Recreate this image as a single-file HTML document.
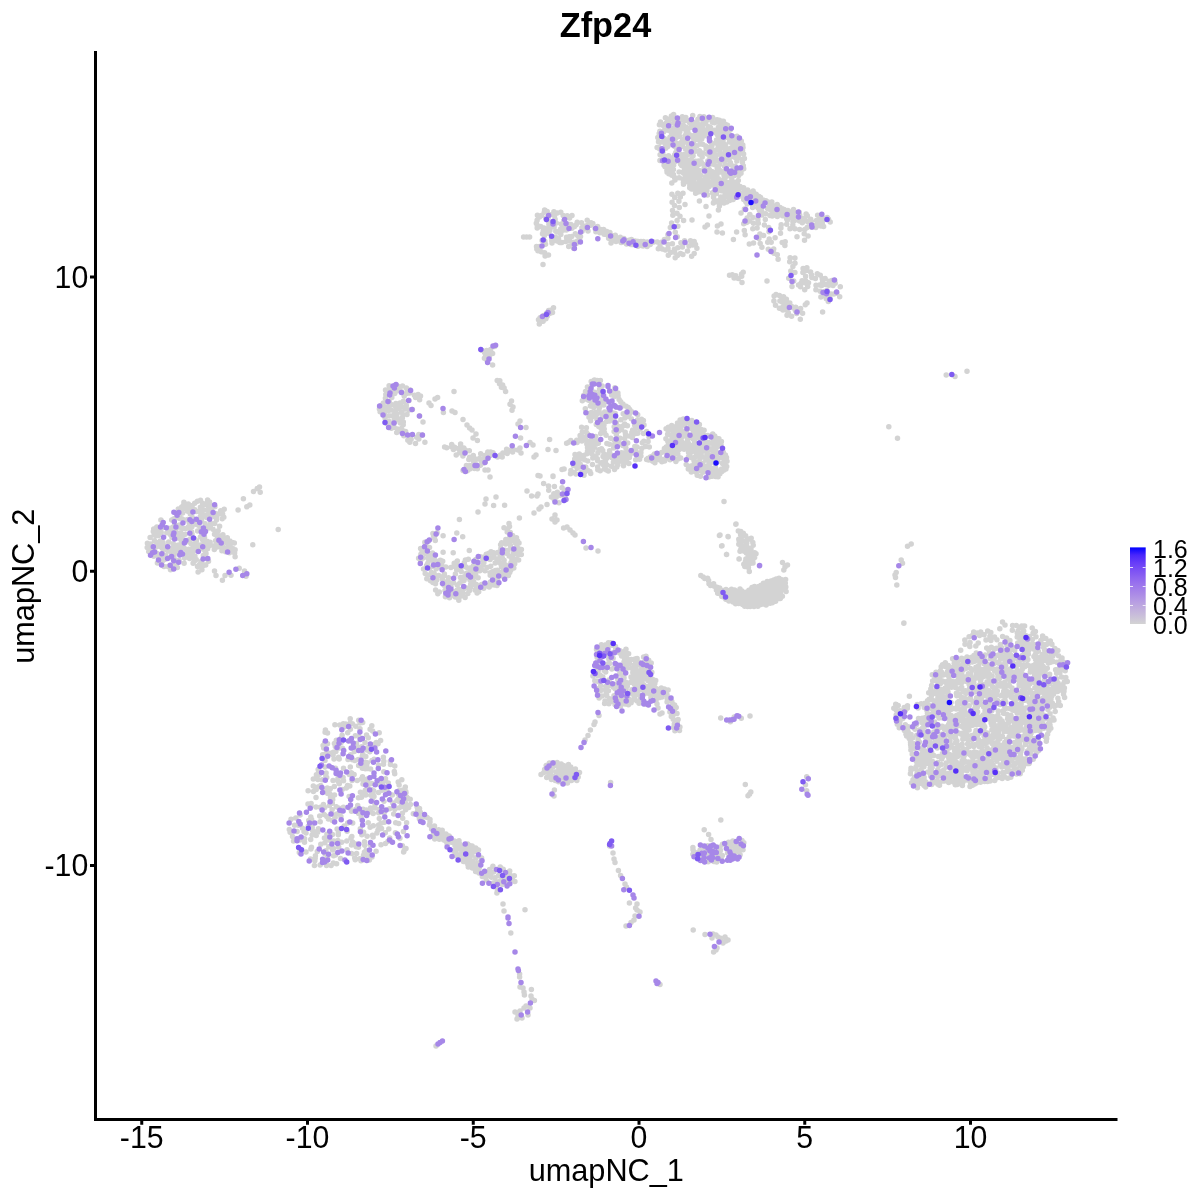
<!DOCTYPE html>
<html><head><meta charset="utf-8"><title>Zfp24</title>
<style>
html,body{margin:0;padding:0;background:#fff}
svg{display:block}
text{font-family:"Liberation Sans",sans-serif;fill:#000}
</style></head>
<body>
<svg width="1200" height="1200" viewBox="0 0 1200 1200">
<rect width="1200" height="1200" fill="#fff"/>
<g fill="none" stroke-width="5.5" stroke-linecap="round"><path d="M713.7 195.1h.01M727.5 134.0h.01M729.5 156.1h.01M684.3 138.9h.01M679.9 154.0h.01M702.7 163.9h.01M676.3 128.1h.01M712.6 117.6h.01M659.9 160.4h.01M714.1 160.3h.01M702.0 136.1h.01M719.9 131.8h.01M703.2 190.5h.01M715.1 181.0h.01M665.0 162.7h.01M703.0 192.7h.01M689.6 167.9h.01M686.1 127.2h.01M731.2 148.1h.01M711.9 171.5h.01M718.4 127.3h.01M696.8 135.4h.01M693.4 122.4h.01M718.0 140.9h.01M736.5 173.7h.01M708.7 126.8h.01M707.1 130.0h.01M737.4 171.9h.01M708.7 147.8h.01M694.2 135.3h.01M699.4 163.3h.01M686.0 181.8h.01M658.9 147.4h.01M659.4 124.8h.01M695.7 161.2h.01M736.4 144.9h.01M710.6 175.7h.01M689.1 160.7h.01M726.5 196.2h.01M694.9 187.6h.01M729.1 160.2h.01M722.9 134.2h.01M674.7 146.6h.01M743.3 165.7h.01M743.6 154.0h.01M724.5 166.3h.01M695.6 193.3h.01M662.9 152.6h.01M718.4 178.7h.01M714.1 201.8h.01M687.0 149.8h.01M675.1 118.2h.01M711.8 157.1h.01M711.0 173.5h.01M699.2 170.6h.01M714.7 130.3h.01M726.4 187.6h.01M723.3 123.9h.01M740.1 186.4h.01M736.8 161.1h.01M679.7 136.2h.01M673.7 165.1h.01M671.8 175.2h.01M658.5 141.8h.01M742.4 162.5h.01M712.4 131.0h.01M687.6 142.5h.01M666.9 170.5h.01M729.5 142.1h.01M735.5 186.0h.01M709.0 171.6h.01M712.3 122.3h.01M717.0 171.0h.01M731.9 186.6h.01M686.5 179.2h.01M671.4 116.0h.01M716.1 133.1h.01M691.3 136.6h.01M698.3 173.3h.01M665.8 148.2h.01M668.8 173.8h.01M690.6 162.6h.01M676.3 136.1h.01M686.7 155.1h.01M668.5 121.0h.01M690.9 178.1h.01M718.2 147.3h.01M725.8 130.9h.01M680.9 162.3h.01M725.0 195.0h.01M668.1 130.3h.01M727.6 149.5h.01M726.0 182.4h.01M722.5 154.0h.01M706.2 148.8h.01M706.7 179.1h.01M691.5 189.0h.01M721.7 188.5h.01M709.2 154.1h.01M699.9 116.6h.01M685.3 142.0h.01M735.2 157.6h.01M673.4 174.4h.01M682.5 160.5h.01M714.0 162.3h.01M692.8 185.4h.01M669.1 123.9h.01M675.6 159.6h.01M660.3 142.2h.01M711.4 119.6h.01M678.2 155.8h.01M737.1 182.7h.01M732.4 182.7h.01M721.3 190.8h.01M718.9 180.4h.01M684.2 128.8h.01M670.8 160.3h.01M709.2 186.6h.01M720.8 172.0h.01M694.5 176.4h.01M732.9 144.0h.01M717.8 132.6h.01M707.0 183.4h.01M699.4 150.7h.01M722.4 161.1h.01M723.4 121.3h.01M706.9 120.3h.01M674.7 154.8h.01M725.2 177.8h.01M707.2 186.9h.01M731.4 175.2h.01M715.3 150.5h.01M707.6 149.6h.01M724.6 148.1h.01M699.2 182.2h.01M702.6 144.3h.01M733.8 184.9h.01M697.5 178.3h.01M659.7 149.0h.01M735.2 166.2h.01M707.6 174.0h.01M718.5 166.6h.01M683.3 140.2h.01M688.8 154.2h.01M690.6 166.4h.01M737.4 158.4h.01M719.3 120.3h.01M735.8 142.0h.01M701.8 131.6h.01M732.2 156.6h.01M726.8 155.2h.01M675.0 142.3h.01M731.3 154.0h.01M679.1 172.0h.01M691.0 171.5h.01M680.2 156.9h.01M680.0 119.7h.01M695.3 183.7h.01M721.5 131.4h.01M669.1 142.8h.01M726.8 157.9h.01M741.0 173.2h.01M713.4 183.3h.01M725.2 144.8h.01M701.3 126.5h.01M696.9 171.7h.01M673.4 128.6h.01M698.5 128.4h.01M673.4 169.6h.01M693.7 151.5h.01M717.2 168.1h.01M667.1 142.2h.01M712.5 174.1h.01M743.7 168.8h.01M687.3 160.2h.01M720.0 151.8h.01M734.4 182.2h.01M687.4 120.6h.01M684.4 154.2h.01M738.7 175.4h.01M734.6 150.2h.01M679.0 126.5h.01M729.7 175.9h.01M676.0 137.9h.01M720.8 125.4h.01M703.8 116.8h.01M706.9 190.5h.01M664.3 138.5h.01M685.2 170.7h.01M698.2 191.9h.01M683.4 182.4h.01M720.4 148.8h.01M723.4 138.9h.01M697.6 139.8h.01M684.5 120.6h.01M672.4 119.3h.01M699.2 133.1h.01M724.1 197.4h.01M681.6 165.6h.01M702.9 120.4h.01M699.9 186.7h.01M735.7 192.3h.01M690.3 182.6h.01M685.8 117.4h.01M692.4 127.5h.01M664.1 165.2h.01M715.7 143.0h.01M708.8 181.9h.01M706.9 131.6h.01M709.9 158.2h.01M671.8 169.8h.01M693.4 138.1h.01M719.4 164.4h.01M679.4 129.4h.01M672.3 157.8h.01M704.5 181.3h.01M696.6 126.4h.01M725.2 124.2h.01M703.0 128.6h.01M669.3 139.4h.01M668.5 155.8h.01M682.3 116.7h.01M725.6 150.5h.01M685.0 180.4h.01M696.6 168.3h.01M721.7 156.8h.01M665.1 143.7h.01M698.5 164.8h.01M724.0 175.2h.01M730.9 150.9h.01M728.2 194.6h.01M743.0 147.5h.01M742.5 150.5h.01M699.7 154.3h.01M669.4 119.1h.01M725.5 164.9h.01M718.0 186.5h.01M677.6 134.8h.01M682.0 141.2h.01M726.1 147.6h.01M673.7 123.3h.01M683.7 171.4h.01M709.4 136.6h.01M710.5 127.6h.01M721.2 120.9h.01M679.8 131.8h.01M704.2 168.2h.01M720.8 144.1h.01M663.5 132.0h.01M696.4 132.2h.01M659.2 133.5h.01M714.5 122.7h.01M743.6 187.8h.01M662.7 125.3h.01M719.9 187.3h.01M672.8 116.8h.01M693.4 141.9h.01M742.4 159.4h.01M665.4 117.8h.01M702.7 153.1h.01M668.0 127.4h.01M693.8 189.3h.01M713.6 179.9h.01M709.3 132.7h.01M705.9 118.8h.01M695.8 173.6h.01M691.5 159.3h.01M683.6 173.2h.01M744.4 158.4h.01M682.9 179.0h.01M687.1 168.3h.01M730.4 162.8h.01M691.2 145.4h.01M717.8 201.0h.01M730.3 129.8h.01M683.2 125.0h.01M657.8 137.5h.01M693.1 155.7h.01M722.3 141.7h.01M738.4 149.4h.01M718.1 122.2h.01M671.4 133.0h.01M664.5 156.5h.01M710.7 142.5h.01M730.1 164.6h.01M669.2 162.8h.01M714.1 152.5h.01M703.3 124.0h.01M695.3 151.3h.01M727.8 129.6h.01M715.1 178.9h.01M685.5 176.7h.01M663.4 158.7h.01M684.4 168.3h.01M686.7 165.3h.01M657.1 147.4h.01M683.5 184.3h.01M664.2 124.4h.01M725.2 154.4h.01M683.7 163.5h.01M724.6 191.4h.01M737.8 185.1h.01M680.9 143.1h.01M703.4 182.6h.01M716.5 139.9h.01M661.5 153.6h.01M712.3 159.8h.01M700.5 124.9h.01M693.9 171.7h.01M680.5 164.1h.01M720.8 196.9h.01M735.5 190.0h.01M689.4 122.6h.01M723.1 126.0h.01M707.8 161.0h.01M689.9 143.3h.01M673.6 114.4h.01M660.5 121.9h.01M702.7 180.5h.01M660.8 135.1h.01M722.3 198.7h.01M698.6 161.1h.01M694.4 146.8h.01M701.7 139.1h.01M733.1 190.6h.01M688.0 169.8h.01M739.1 146.2h.01M707.3 153.9h.01M716.0 200.7h.01M714.7 192.6h.01M680.7 159.8h.01M686.0 173.4h.01M709.3 169.6h.01M722.9 155.7h.01M713.5 197.3h.01M727.1 137.3h.01M686.0 157.9h.01M705.1 176.7h.01M714.9 175.2h.01M691.7 175.1h.01M676.7 148.6h.01M667.8 146.5h.01M689.8 185.4h.01M669.4 166.3h.01M712.5 192.8h.01M741.3 141.0h.01M692.7 115.6h.01M720.3 153.9h.01M729.5 134.8h.01M716.9 174.7h.01M699.0 130.7h.01M693.4 181.2h.01M698.9 134.9h.01M729.8 187.8h.01M731.8 179.7h.01M732.5 140.6h.01M718.1 160.6h.01M734.4 175.5h.01M718.8 203.0h.01M703.1 186.0h.01M696.9 145.7h.01M666.3 123.0h.01M688.5 150.6h.01M716.2 155.5h.01M701.3 162.2h.01M698.4 175.0h.01M674.4 136.1h.01M685.5 149.1h.01M700.4 175.0h.01M666.2 130.0h.01M688.5 145.8h.01M687.8 130.9h.01M734.4 170.3h.01M717.0 119.7h.01M699.2 178.7h.01M678.2 119.3h.01M674.0 131.8h.01M689.7 187.8h.01M696.7 137.9h.01M706.2 133.7h.01M735.1 188.4h.01M737.7 140.7h.01M716.6 191.5h.01M729.6 191.9h.01M701.3 190.1h.01M698.7 137.6h.01M700.6 144.1h.01M669.5 128.5h.01M718.5 138.2h.01M732.7 138.7h.01M663.8 142.3h.01M714.1 164.4h.01M726.1 160.2h.01M691.0 169.8h.01M722.5 127.9h.01M720.5 136.7h.01M680.2 124.5h.01M716.6 181.5h.01M727.5 125.3h.01M659.9 131.2h.01M672.3 162.5h.01M688.0 173.1h.01M679.1 177.8h.01M723.7 179.2h.01M703.9 136.1h.01M680.8 146.6h.01M660.1 154.7h.01M705.7 146.1h.01M728.1 182.6h.01M697.7 189.9h.01M674.6 177.5h.01M675.0 180.0h.01M733.3 136.7h.01M665.1 166.8h.01M702.2 157.1h.01M675.4 161.4h.01M685.2 135.4h.01M697.9 151.3h.01M694.0 167.7h.01M739.2 188.7h.01M697.9 119.3h.01M686.3 132.1h.01M741.5 169.9h.01M742.8 145.1h.01M717.4 134.7h.01M740.6 144.7h.01M710.7 164.0h.01M720.0 141.5h.01M689.5 176.5h.01M723.6 186.8h.01M721.6 202.3h.01M676.2 121.2h.01M738.3 180.5h.01M732.9 146.0h.01M730.2 184.6h.01M691.7 181.7h.01M705.7 123.7h.01M677.8 143.7h.01M695.6 165.2h.01M682.6 146.3h.01M725.5 156.3h.01M707.5 195.1h.01M711.7 148.9h.01M683.7 156.0h.01M683.2 158.0h.01M734.4 138.1h.01M716.4 193.5h.01M737.0 136.3h.01M724.7 171.3h.01M738.6 157.1h.01M671.8 183.0h.01M669.9 137.2h.01M729.8 196.4h.01M699.6 176.8h.01M738.6 154.0h.01M729.6 139.4h.01M709.1 177.4h.01M667.8 119.5h.01M677.8 158.3h.01M720.0 170.5h.01M714.6 186.0h.01M711.8 146.0h.01M700.5 137.4h.01M685.2 159.9h.01M675.8 132.6h.01M689.5 134.8h.01M673.3 143.0h.01M728.4 174.2h.01M675.8 152.4h.01M667.1 172.2h.01M664.6 129.9h.01M690.5 149.0h.01M666.4 157.2h.01M732.9 166.1h.01M723.8 143.6h.01M722.1 181.7h.01M697.2 122.9h.01M690.8 127.2h.01M713.9 157.6h.01M738.5 173.4h.01M760.6 197.6h.01M747.1 204.1h.01M745.5 196.3h.01M749.5 194.8h.01M795.0 212.4h.01M758.5 200.0h.01M793.5 209.6h.01M777.1 214.6h.01M777.3 216.5h.01M743.7 199.5h.01M815.4 225.4h.01M806.1 214.0h.01M731.4 195.6h.01M823.6 226.6h.01M753.3 196.0h.01M772.3 215.9h.01M765.7 213.7h.01M772.4 212.5h.01M734.3 195.4h.01M771.8 201.9h.01M807.3 215.8h.01M784.9 212.1h.01M830.2 222.1h.01M758.6 202.0h.01M729.6 200.6h.01M817.6 215.2h.01M787.9 210.4h.01M767.5 208.5h.01M745.8 201.7h.01M817.8 223.5h.01M759.4 210.5h.01M785.8 216.4h.01M781.8 212.4h.01M750.1 202.3h.01M793.1 216.4h.01M772.0 205.8h.01M770.0 215.5h.01M754.0 193.0h.01M781.1 214.3h.01M776.0 212.5h.01M777.2 204.4h.01M805.4 220.8h.01M761.8 211.7h.01M790.0 212.1h.01M753.8 199.9h.01M778.5 212.4h.01M822.9 219.6h.01M784.1 209.6h.01M796.9 213.6h.01M741.5 193.6h.01M779.3 210.6h.01M756.7 203.8h.01M775.9 205.7h.01M822.4 224.6h.01M758.8 204.8h.01M747.7 189.9h.01M803.0 218.4h.01M828.5 219.2h.01M822.3 217.4h.01M810.7 219.3h.01M780.1 207.5h.01M782.5 215.7h.01M745.8 191.2h.01M819.4 225.2h.01M769.6 206.5h.01M799.7 214.9h.01M799.2 212.2h.01M822.5 221.5h.01M755.8 198.7h.01M782.0 208.7h.01M827.2 217.5h.01M752.6 207.4h.01M726.8 202.1h.01M759.1 196.5h.01M760.0 206.6h.01M733.1 199.6h.01M784.6 214.3h.01M811.1 221.6h.01M786.7 219.1h.01M819.6 217.8h.01M799.5 220.9h.01M738.4 196.8h.01M761.5 208.1h.01M768.5 202.2h.01M793.3 213.8h.01M756.1 194.2h.01M763.2 199.9h.01M819.8 215.8h.01M751.7 192.6h.01M747.9 200.5h.01M809.1 221.6h.01M794.3 220.7h.01M763.1 213.5h.01M743.7 197.5h.01M757.9 207.7h.01M761.2 202.9h.01M795.1 215.7h.01M765.9 200.8h.01M820.9 226.1h.01M782.5 210.6h.01M790.2 217.6h.01M736.4 192.7h.01M749.5 198.5h.01M773.6 207.5h.01M753.1 191.0h.01M730.8 197.8h.01M820.5 220.0h.01M752.1 194.5h.01M776.4 209.0h.01M763.1 203.2h.01M754.5 203.0h.01M770.7 210.2h.01M752.0 203.7h.01M743.7 188.5h.01M816.4 220.4h.01M794.9 228.8h.01M761.9 215.0h.01M764.3 225.1h.01M759.9 234.1h.01M745.1 234.7h.01M760.2 243.6h.01M758.3 223.2h.01M808.1 221.9h.01M780.9 227.9h.01M753.5 223.2h.01M775.1 237.8h.01M811.7 227.2h.01M741.0 213.0h.01M804.2 233.8h.01M792.8 225.1h.01M785.2 241.8h.01M769.0 231.8h.01M804.8 229.6h.01M768.3 249.2h.01M782.2 242.5h.01M808.1 236.1h.01M769.2 239.0h.01M771.2 242.2h.01M758.9 238.5h.01M781.2 224.7h.01M777.3 254.7h.01M757.9 219.5h.01M799.7 229.4h.01M804.5 240.3h.01M784.9 245.6h.01M802.3 222.8h.01M749.3 243.9h.01M792.9 221.4h.01M744.4 209.1h.01M747.1 218.0h.01M773.7 249.0h.01M807.1 227.6h.01M749.7 221.0h.01M746.6 222.4h.01M787.3 220.3h.01M744.3 230.5h.01M752.9 217.4h.01M767.7 242.3h.01M768.7 227.6h.01M752.8 228.7h.01M761.9 247.2h.01M786.7 224.3h.01M790.0 228.7h.01M780.5 233.3h.01M815.8 227.5h.01M743.7 223.7h.01M749.8 214.5h.01M763.6 235.4h.01M753.5 243.1h.01M773.9 253.2h.01M797.0 236.7h.01M765.3 219.4h.01M757.1 228.0h.01M699.4 201.0h.01M706.0 206.6h.01M713.4 203.0h.01M719.4 206.0h.01M724.0 203.0h.01M709.0 216.0h.01M705.0 227.0h.01M707.4 225.0h.01M717.4 226.0h.01M721.0 224.0h.01M717.0 232.0h.01M722.4 233.0h.01M736.6 232.0h.01M733.4 239.4h.01M718.4 210.0h.01M692.0 220.0h.01M683.6 220.6h.01M685.0 204.6h.01M677.0 213.3h.01M672.5 210.4h.01M672.1 202.3h.01M674.7 197.4h.01M677.9 226.2h.01M677.1 220.6h.01M677.8 193.2h.01M678.9 201.2h.01M674.5 205.6h.01M679.3 207.6h.01M680.3 197.0h.01M671.6 223.1h.01M672.8 215.2h.01M670.3 227.6h.01M683.0 193.3h.01M680.0 216.3h.01M671.9 194.2h.01M668.3 255.2h.01M675.2 257.8h.01M682.9 254.4h.01M665.4 250.0h.01M667.9 238.3h.01M672.4 243.8h.01M658.3 248.8h.01M692.8 244.9h.01M675.3 232.3h.01M695.5 244.6h.01M684.6 240.7h.01M677.8 247.7h.01M691.6 256.2h.01M689.0 245.9h.01M670.6 252.5h.01M696.9 248.2h.01M668.1 244.6h.01M657.3 242.0h.01M680.9 242.8h.01M694.2 241.6h.01M667.9 234.8h.01M662.3 249.1h.01M694.2 253.6h.01M674.6 252.3h.01M690.5 240.8h.01M687.5 251.0h.01M653.7 242.1h.01M680.4 253.4h.01M668.0 248.2h.01M664.4 239.5h.01M677.3 236.8h.01M662.0 241.9h.01M674.4 249.2h.01M660.0 246.5h.01M677.4 255.5h.01M682.4 246.9h.01M646.7 242.9h.01M639.8 244.4h.01M643.1 246.0h.01M627.1 243.5h.01M650.2 244.6h.01M628.9 240.3h.01M647.1 246.5h.01M620.4 240.3h.01M643.4 241.6h.01M637.4 241.6h.01M630.8 244.6h.01M622.4 242.3h.01M790.1 257.7h.01M789.7 261.7h.01M792.9 266.6h.01M793.7 281.0h.01M790.8 271.1h.01M795.0 263.2h.01M778.1 259.2h.01M792.0 286.5h.01M794.9 272.6h.01M798.5 285.1h.01M794.9 258.1h.01M788.7 278.3h.01M820.9 296.9h.01M815.9 289.7h.01M807.7 286.5h.01M804.6 282.7h.01M834.7 280.4h.01M826.3 298.7h.01M820.3 275.3h.01M832.0 280.6h.01M801.2 283.1h.01M828.9 285.3h.01M826.8 290.6h.01M808.5 282.7h.01M839.7 296.7h.01M824.6 291.5h.01M815.4 278.5h.01M817.3 273.8h.01M816.0 285.2h.01M836.8 293.2h.01M832.7 283.2h.01M800.5 286.8h.01M804.7 289.8h.01M820.2 291.2h.01M822.6 281.8h.01M833.0 285.5h.01M805.6 280.8h.01M824.7 295.4h.01M833.9 293.9h.01M819.5 284.9h.01M803.1 268.5h.01M829.1 281.2h.01M822.2 278.7h.01M828.3 301.4h.01M810.6 271.9h.01M802.1 280.8h.01M830.8 294.0h.01M840.3 286.8h.01M825.5 284.6h.01M806.8 270.3h.01M811.6 275.1h.01M811.8 277.5h.01M835.2 283.3h.01M825.1 278.4h.01M806.9 267.8h.01M829.9 298.2h.01M821.7 285.6h.01M805.6 276.2h.01M802.9 272.5h.01M782.1 301.9h.01M773.9 301.1h.01M788.3 312.8h.01M795.7 307.2h.01M782.9 310.0h.01M774.1 296.1h.01M796.7 313.6h.01M802.6 313.2h.01M795.5 310.7h.01M786.2 309.9h.01M779.4 308.3h.01M785.6 303.3h.01M791.6 316.2h.01M781.8 299.4h.01M785.7 305.9h.01M800.6 308.5h.01M783.5 296.8h.01M786.4 299.2h.01M793.5 308.1h.01M787.0 315.2h.01M789.8 302.9h.01M799.1 310.2h.01M776.0 294.6h.01M782.6 307.3h.01M800.3 319.2h.01M805.3 304.8h.01M791.7 306.4h.01M775.5 305.3h.01M779.4 295.6h.01M779.9 300.9h.01M822.6 312.0h.01M807.0 303.0h.01M767.0 281.0h.01M742.0 282.4h.01M732.3 274.7h.01M738.3 278.4h.01M743.2 272.3h.01M741.7 276.2h.01M735.8 275.7h.01M729.5 275.2h.01M734.1 278.0h.01M741.6 273.9h.01M566.5 237.2h.01M537.1 220.3h.01M544.6 252.7h.01M551.7 238.1h.01M544.0 228.1h.01M555.1 219.3h.01M544.6 210.1h.01M587.3 225.6h.01M561.8 242.4h.01M554.5 215.8h.01M571.9 228.3h.01M545.9 218.0h.01M548.0 220.5h.01M564.6 227.0h.01M590.7 225.3h.01M565.6 224.4h.01M574.1 242.2h.01M592.8 223.6h.01M540.7 226.4h.01M553.9 211.8h.01M544.3 235.7h.01M563.8 220.8h.01M561.2 224.1h.01M576.2 224.8h.01M544.3 212.2h.01M588.0 231.1h.01M545.1 256.0h.01M537.4 215.3h.01M557.2 213.1h.01M542.5 233.7h.01M553.4 222.4h.01M559.7 242.5h.01M572.0 215.5h.01M548.3 233.3h.01M551.8 240.8h.01M545.1 233.0h.01M580.5 236.4h.01M541.4 215.4h.01M585.5 228.3h.01M549.0 226.8h.01M542.1 240.4h.01M591.0 222.7h.01M554.1 227.0h.01M581.5 222.7h.01M558.0 231.9h.01M581.9 227.8h.01M577.6 235.5h.01M571.7 236.6h.01M555.8 231.2h.01M537.2 225.3h.01M577.4 240.9h.01M537.2 227.9h.01M568.7 246.5h.01M539.5 246.6h.01M544.9 241.3h.01M536.5 246.5h.01M536.3 223.3h.01M567.2 215.7h.01M575.3 233.8h.01M576.3 243.6h.01M555.1 240.1h.01M577.2 222.2h.01M558.5 239.0h.01M569.6 217.9h.01M579.8 240.7h.01M545.5 244.3h.01M543.2 231.3h.01M579.6 238.4h.01M587.2 220.3h.01M569.8 241.0h.01M568.6 224.3h.01M555.4 237.0h.01M560.8 212.3h.01M549.9 230.4h.01M536.8 248.9h.01M562.9 230.3h.01M548.5 255.1h.01M573.6 248.2h.01M582.1 231.3h.01M566.3 230.0h.01M548.1 217.5h.01M574.6 226.6h.01M548.4 229.1h.01M547.2 211.6h.01M551.7 214.6h.01M537.9 250.8h.01M539.5 216.9h.01M552.0 243.0h.01M541.2 251.7h.01M569.2 236.7h.01M584.0 226.1h.01M548.9 224.6h.01M572.8 245.2h.01M560.6 229.0h.01M557.0 240.9h.01M560.8 234.4h.01M556.2 223.0h.01M570.9 224.6h.01M565.9 241.6h.01M563.2 215.4h.01M523.6 237.0h.01M526.6 237.0h.01M529.6 237.0h.01M543.0 264.4h.01M599.8 229.3h.01M637.9 246.3h.01M646.7 245.3h.01M623.9 238.5h.01M633.0 244.6h.01M631.4 239.5h.01M621.1 242.4h.01M595.2 228.7h.01M641.0 241.4h.01M635.1 241.1h.01M615.3 235.2h.01M642.1 245.8h.01M608.6 238.3h.01M604.1 234.2h.01M599.8 232.7h.01M628.2 240.7h.01M644.0 242.8h.01M611.7 235.4h.01M606.8 231.5h.01M612.5 239.4h.01M626.5 244.1h.01M620.3 237.2h.01M616.0 241.5h.01M603.6 229.5h.01M595.9 231.8h.01M597.6 226.6h.01M617.0 238.2h.01M647.3 242.1h.01M607.5 235.0h.01M609.9 232.6h.01M638.1 241.4h.01M630.9 243.1h.01M625.5 241.4h.01M619.0 240.1h.01M611.0 243.0h.01M551.2 310.1h.01M553.5 307.7h.01M543.6 315.5h.01M543.1 321.2h.01M546.8 313.1h.01M539.3 323.9h.01M547.2 316.3h.01M540.1 317.8h.01M549.7 313.6h.01M538.5 319.8h.01M545.9 318.7h.01M552.5 312.6h.01M548.6 310.4h.01M542.8 317.9h.01M492.6 353.6h.01M490.7 349.6h.01M485.6 355.3h.01M492.6 364.9h.01M481.7 350.3h.01M484.6 352.4h.01M494.7 346.4h.01M486.6 350.5h.01M487.0 360.3h.01M487.5 353.2h.01M484.4 358.2h.01M489.3 356.2h.01M504.1 388.1h.01M502.6 385.1h.01M505.6 391.6h.01M499.8 380.7h.01M499.5 383.8h.01M501.4 387.2h.01M497.2 380.4h.01M510.0 404.3h.01M512.0 410.2h.01M513.0 407.0h.01M511.5 401.0h.01M520.0 421.0h.01M518.0 424.0h.01M526.0 427.6h.01M520.6 438.0h.01M530.0 442.4h.01M533.0 445.0h.01M520.0 448.0h.01M536.0 455.0h.01M534.0 457.0h.01M521.0 453.0h.01M518.0 450.0h.01M395.9 403.5h.01M407.3 391.5h.01M392.4 393.1h.01M415.6 397.6h.01M405.8 409.1h.01M403.4 401.3h.01M386.2 400.5h.01M387.1 423.7h.01M406.5 393.6h.01M401.6 391.8h.01M394.3 418.7h.01M390.4 388.8h.01M396.3 391.2h.01M406.4 387.9h.01M401.7 412.5h.01M407.8 440.3h.01M399.2 430.8h.01M403.8 435.7h.01M385.4 398.3h.01M396.7 432.5h.01M409.9 436.1h.01M407.0 414.4h.01M391.4 428.2h.01M388.7 393.2h.01M396.9 414.1h.01M380.1 411.8h.01M393.9 391.5h.01M409.7 393.0h.01M406.3 405.6h.01M404.2 395.9h.01M399.2 408.8h.01M389.7 415.7h.01M389.3 402.1h.01M403.3 421.9h.01M394.1 427.3h.01M385.1 418.2h.01M395.5 410.4h.01M383.4 403.0h.01M409.8 442.2h.01M402.8 414.6h.01M402.4 417.7h.01M391.2 410.0h.01M397.5 429.0h.01M385.8 394.5h.01M415.5 443.5h.01M389.1 385.8h.01M379.4 408.9h.01M390.0 391.0h.01M385.5 390.0h.01M391.8 397.4h.01M395.1 405.7h.01M389.1 421.4h.01M414.4 395.2h.01M401.5 428.6h.01M400.4 405.7h.01M419.6 399.7h.01M420.5 396.1h.01M384.1 412.7h.01M418.8 439.1h.01M388.5 406.0h.01M418.8 434.5h.01M416.7 437.3h.01M388.6 410.4h.01M400.0 403.0h.01M403.2 424.7h.01M402.8 430.8h.01M381.6 405.2h.01M405.6 431.6h.01M411.1 439.2h.01M410.2 390.1h.01M390.9 424.8h.01M409.2 410.1h.01M397.0 417.5h.01M402.5 386.0h.01M400.4 422.9h.01M386.9 416.0h.01M399.1 388.5h.01M418.1 394.4h.01M394.8 421.9h.01M385.2 410.2h.01M398.8 419.4h.01M397.6 386.0h.01M391.1 404.6h.01M385.2 407.2h.01M424.9 442.3h.01M394.7 393.6h.01M381.6 409.4h.01M394.1 414.8h.01M409.0 400.4h.01M412.4 409.6h.01M419.6 416.0h.01M423.0 422.0h.01M422.4 435.2h.01M429.0 403.0h.01M431.0 405.6h.01M435.0 399.0h.01M437.6 397.6h.01M403.0 407.0h.01M405.0 409.0h.01M454.0 391.6h.01M452.0 411.0h.01M455.0 412.4h.01M443.4 412.4h.01M463.0 419.4h.01M467.0 425.0h.01M469.6 428.0h.01M472.0 430.0h.01M476.0 434.0h.01M473.0 438.0h.01M477.4 440.6h.01M446.7 447.8h.01M481.2 460.5h.01M485.4 461.4h.01M497.6 456.9h.01M484.8 455.5h.01M480.4 465.3h.01M451.8 447.1h.01M479.8 458.2h.01M490.1 455.5h.01M507.3 453.6h.01M473.5 458.1h.01M484.6 458.6h.01M480.7 453.7h.01M476.8 465.1h.01M487.8 452.1h.01M460.6 443.9h.01M451.7 444.6h.01M453.4 449.6h.01M512.6 452.1h.01M476.5 459.3h.01M464.7 452.8h.01M500.5 455.1h.01M502.9 453.0h.01M463.8 448.0h.01M466.4 465.6h.01M462.3 451.5h.01M469.3 450.8h.01M483.3 463.0h.01M473.3 455.6h.01M462.9 455.9h.01M463.0 470.5h.01M510.4 450.2h.01M474.0 464.1h.01M456.2 455.1h.01M469.9 465.6h.01M513.6 449.7h.01M473.6 461.3h.01M465.3 450.0h.01M477.4 468.7h.01M459.6 452.8h.01M469.8 469.0h.01M468.8 459.5h.01M454.6 447.2h.01M506.6 449.3h.01M469.6 457.2h.01M502.2 456.9h.01M474.4 468.6h.01M461.4 447.9h.01M493.0 452.7h.01M490.6 451.9h.01M458.2 448.6h.01M467.3 470.8h.01M488.0 470.0h.01M490.0 477.0h.01M485.0 470.0h.01M444.6 447.0h.01M538.0 475.6h.01M553.0 476.4h.01M543.6 483.6h.01M527.0 491.0h.01M531.6 496.0h.01M538.0 494.0h.01M537.0 496.0h.01M486.0 499.0h.01M496.0 497.0h.01M485.0 504.0h.01M493.6 505.6h.01M504.6 505.2h.01M478.0 512.0h.01M459.4 519.6h.01M519.4 518.0h.01M534.0 513.0h.01M539.0 509.0h.01M541.0 507.0h.01M547.0 504.4h.01M549.6 439.4h.01M548.0 449.6h.01M556.0 450.4h.01M562.0 469.4h.01M557.3 492.2h.01M564.9 496.9h.01M553.8 493.7h.01M548.5 486.1h.01M551.4 497.1h.01M556.1 497.2h.01M554.3 499.8h.01M558.9 502.7h.01M564.8 493.6h.01M548.7 490.2h.01M560.2 495.3h.01M562.0 487.7h.01M554.4 486.5h.01M564.5 490.1h.01M555.0 515.0h.01M552.0 519.0h.01M555.0 522.0h.01M557.0 520.0h.01M563.6 528.0h.01M567.0 527.0h.01M570.0 530.0h.01M573.0 533.0h.01M575.0 535.0h.01M598.0 551.0h.01M586.0 548.0h.01M585.9 399.1h.01M590.4 405.9h.01M606.1 435.2h.01M616.4 423.0h.01M635.9 451.2h.01M600.9 405.0h.01M601.2 428.4h.01M585.7 467.1h.01M591.2 381.5h.01M620.9 419.7h.01M576.0 474.0h.01M597.8 403.1h.01M615.2 413.5h.01M641.8 448.6h.01M619.0 461.1h.01M623.8 463.3h.01M640.9 452.4h.01M607.0 464.9h.01M610.1 407.8h.01M605.4 460.9h.01M621.4 452.7h.01M608.3 471.1h.01M635.7 459.8h.01M590.5 394.2h.01M637.0 447.1h.01M606.5 421.6h.01M597.7 466.9h.01M610.6 438.2h.01M626.9 452.1h.01M594.5 415.6h.01M573.5 465.4h.01M587.5 441.2h.01M614.4 396.6h.01M593.2 396.7h.01M595.8 456.4h.01M592.8 457.9h.01M597.3 458.7h.01M583.6 455.4h.01M628.9 463.4h.01M591.4 412.4h.01M592.0 453.8h.01M582.3 400.8h.01M603.0 456.6h.01M619.6 426.8h.01M574.3 472.7h.01M621.4 456.6h.01M638.1 424.5h.01M595.6 405.3h.01M614.9 417.5h.01M580.4 456.9h.01M614.5 469.4h.01M627.7 442.9h.01M625.1 456.9h.01M629.7 413.8h.01M642.3 442.8h.01M640.9 456.0h.01M634.7 425.3h.01M633.1 452.8h.01M598.4 443.2h.01M602.2 386.0h.01M606.4 469.9h.01M639.6 459.3h.01M622.7 445.4h.01M627.7 416.2h.01M597.6 460.7h.01M602.9 414.6h.01M581.3 458.6h.01M597.8 469.8h.01M604.7 402.0h.01M602.3 416.9h.01M637.5 419.9h.01M596.9 419.3h.01M620.3 444.1h.01M591.5 385.9h.01M599.7 393.4h.01M594.3 447.2h.01M604.0 453.9h.01M600.2 470.7h.01M602.3 400.4h.01M629.7 409.4h.01M615.2 457.7h.01M609.5 444.2h.01M595.7 436.6h.01M601.7 394.3h.01M570.5 473.7h.01M603.9 425.3h.01M603.2 462.0h.01M634.8 446.5h.01M587.4 470.3h.01M596.3 424.6h.01M586.9 453.7h.01M590.7 473.5h.01M629.4 457.6h.01M570.9 470.4h.01M594.6 392.3h.01M603.2 391.5h.01M618.5 441.8h.01M645.7 446.4h.01M625.9 448.1h.01M587.5 450.9h.01M581.9 441.0h.01M587.7 460.9h.01M643.5 433.6h.01M637.7 414.8h.01M625.5 434.5h.01M644.0 425.0h.01M613.7 448.0h.01M583.8 395.2h.01M623.2 413.7h.01M599.4 412.8h.01M612.5 418.7h.01M617.7 456.5h.01M612.3 391.9h.01M595.5 402.7h.01M577.1 468.3h.01M592.5 464.5h.01M621.5 429.6h.01M579.6 466.9h.01M587.4 387.0h.01M635.3 428.8h.01M641.1 423.4h.01M614.9 387.7h.01M616.3 434.6h.01M585.3 408.8h.01M600.9 463.1h.01M629.3 436.1h.01M589.9 471.4h.01M611.5 455.0h.01M570.8 440.6h.01M578.4 460.5h.01M627.6 413.7h.01M609.9 417.3h.01M632.7 429.9h.01M650.0 459.4h.01M613.0 413.0h.01M637.8 433.2h.01M619.1 399.5h.01M618.1 395.7h.01M564.1 469.0h.01M610.7 405.5h.01M598.8 405.4h.01M584.8 472.1h.01M648.0 458.2h.01M626.2 406.2h.01M620.1 438.3h.01M600.7 396.1h.01M614.1 431.6h.01M576.7 440.2h.01M648.1 441.5h.01M616.0 460.5h.01M603.8 405.1h.01M593.0 449.8h.01M616.4 443.0h.01M617.1 407.3h.01M566.6 443.2h.01M589.2 452.7h.01M591.8 417.0h.01M587.5 447.6h.01M603.7 465.2h.01M604.5 469.1h.01M609.6 450.8h.01M597.1 380.5h.01M598.8 449.7h.01M593.1 443.7h.01M623.7 460.5h.01M611.5 466.2h.01M596.6 441.2h.01M628.2 407.5h.01M631.7 411.8h.01M634.9 433.7h.01M598.1 423.0h.01M595.9 444.3h.01M629.8 455.1h.01M624.7 423.9h.01M649.0 436.9h.01M595.1 383.2h.01M601.3 422.8h.01M600.4 380.4h.01M605.5 415.1h.01M579.3 454.1h.01M580.5 437.7h.01M599.5 407.6h.01M590.6 420.7h.01M602.7 450.4h.01M604.2 429.1h.01M617.9 392.9h.01M577.1 442.5h.01M606.4 458.5h.01M613.4 462.2h.01M577.3 457.9h.01M609.1 453.5h.01M596.8 414.2h.01M614.4 444.4h.01M622.9 404.1h.01M631.3 418.7h.01M568.6 442.3h.01M599.0 410.8h.01M606.9 443.6h.01M632.3 437.5h.01M576.1 462.9h.01M604.7 412.0h.01M617.8 464.7h.01M590.8 440.8h.01M587.7 434.1h.01M593.5 441.4h.01M620.7 401.7h.01M649.3 447.1h.01M623.3 425.7h.01M624.9 417.9h.01M591.6 403.0h.01M588.8 443.0h.01M621.5 406.4h.01M626.9 462.1h.01M585.5 391.6h.01M594.4 380.0h.01M640.1 429.1h.01M616.8 467.1h.01M585.0 437.2h.01M611.6 457.6h.01M641.5 419.2h.01M600.7 433.4h.01M599.9 385.9h.01M589.0 417.3h.01M574.7 459.1h.01M618.7 431.0h.01M606.4 455.7h.01M611.6 395.1h.01M609.8 391.2h.01M625.2 432.3h.01M585.5 439.2h.01M623.5 452.9h.01M624.7 438.4h.01M608.7 412.4h.01M580.1 435.4h.01M588.5 400.3h.01M598.8 426.6h.01M589.5 413.3h.01M575.0 454.5h.01M582.3 431.9h.01M643.4 420.5h.01M586.3 432.3h.01M646.6 431.4h.01M614.9 390.2h.01M614.2 426.7h.01M614.2 392.8h.01M586.4 427.8h.01M581.1 472.5h.01M604.6 433.1h.01M609.6 421.0h.01M623.5 465.7h.01M601.5 448.7h.01M582.5 436.8h.01M627.4 425.7h.01M595.4 412.5h.01M591.4 446.7h.01M586.8 444.0h.01M597.9 453.0h.01M635.5 449.2h.01M581.6 427.3h.01M614.1 440.0h.01M593.9 407.4h.01M643.8 441.2h.01M580.2 464.0h.01M584.5 459.8h.01M599.5 389.4h.01M621.7 461.3h.01M584.0 475.3h.01M590.5 450.2h.01M631.8 432.5h.01M709.7 470.2h.01M715.3 463.1h.01M678.0 459.0h.01M657.2 456.3h.01M698.4 451.9h.01M696.4 454.1h.01M681.0 429.7h.01M717.5 446.4h.01M684.9 435.7h.01M688.5 449.2h.01M698.4 466.7h.01M693.7 445.0h.01M661.9 461.8h.01M699.4 436.5h.01M701.9 447.8h.01M717.0 442.5h.01M716.0 468.9h.01M699.1 445.4h.01M700.3 438.5h.01M702.2 456.4h.01M687.1 435.8h.01M710.4 458.7h.01M723.3 452.3h.01M686.6 432.4h.01M678.7 438.0h.01M691.0 425.7h.01M681.7 437.4h.01M701.7 432.8h.01M673.0 433.5h.01M694.9 427.7h.01M700.9 467.2h.01M691.9 437.4h.01M708.8 464.4h.01M699.8 450.1h.01M661.6 452.4h.01M688.3 447.0h.01M724.1 470.1h.01M680.3 441.3h.01M691.1 457.6h.01M696.5 448.3h.01M675.9 461.5h.01M675.2 449.9h.01M718.1 458.0h.01M702.5 442.4h.01M688.8 437.5h.01M701.3 429.4h.01M654.9 462.7h.01M706.4 469.4h.01M682.2 445.7h.01M672.2 455.3h.01M646.6 459.6h.01M705.8 460.1h.01M696.3 437.4h.01M698.3 433.0h.01M666.4 457.6h.01M713.2 451.5h.01M665.9 438.7h.01M692.5 424.2h.01M670.9 435.2h.01M712.9 442.6h.01M677.8 453.9h.01M664.4 448.5h.01M671.7 425.4h.01M708.5 442.6h.01M671.8 439.4h.01M678.8 446.9h.01M686.2 464.5h.01M650.3 457.1h.01M666.1 428.7h.01M721.6 469.1h.01M711.6 473.2h.01M710.3 475.3h.01M673.3 429.2h.01M708.6 467.0h.01M721.9 471.6h.01M722.5 463.5h.01M712.7 434.0h.01M694.6 423.3h.01M699.1 461.3h.01M725.4 455.0h.01M702.8 472.2h.01M676.8 432.4h.01M699.4 424.6h.01M715.9 448.6h.01M701.5 436.4h.01M688.5 452.4h.01M696.4 466.2h.01M680.4 444.1h.01M680.1 420.0h.01M701.4 440.5h.01M678.4 426.2h.01M676.2 430.1h.01M667.6 434.3h.01M708.0 460.5h.01M680.7 458.0h.01M703.1 434.6h.01M674.7 459.3h.01M714.0 445.7h.01M661.7 459.2h.01M708.9 476.9h.01M669.0 447.5h.01M648.6 459.9h.01M709.6 455.4h.01M696.8 429.4h.01M688.3 469.1h.01M688.4 456.9h.01M687.6 439.5h.01M718.9 438.7h.01M704.1 430.3h.01M694.3 463.2h.01M714.4 454.6h.01M704.8 435.8h.01M697.7 426.9h.01M668.1 430.5h.01M714.1 471.5h.01M698.2 455.3h.01M721.9 457.5h.01M691.0 465.9h.01M693.7 451.0h.01M684.1 443.3h.01M726.7 466.5h.01M716.3 454.0h.01M704.7 468.0h.01M674.4 440.0h.01M691.8 420.5h.01M680.2 422.0h.01M695.9 471.9h.01M707.9 444.9h.01M685.8 420.8h.01M709.2 450.3h.01M668.7 457.4h.01M694.0 460.5h.01M704.5 444.8h.01M694.8 457.2h.01M679.3 449.6h.01M717.0 474.9h.01M651.0 459.2h.01M716.4 438.3h.01M674.3 427.1h.01M668.3 444.2h.01M691.3 452.0h.01M675.2 454.0h.01M714.7 436.1h.01M677.4 444.6h.01M674.7 437.0h.01M705.4 441.4h.01M726.5 457.6h.01M680.6 426.4h.01M666.2 447.0h.01M715.5 476.6h.01M688.7 443.4h.01M713.7 439.7h.01M670.0 459.8h.01M710.5 467.9h.01M678.4 440.7h.01M690.1 428.3h.01M715.2 460.5h.01M677.1 450.6h.01M701.1 452.6h.01M672.1 452.1h.01M697.2 475.3h.01M652.7 461.2h.01M668.9 454.4h.01M693.3 431.1h.01M688.9 423.3h.01M693.6 466.3h.01M721.4 441.6h.01M705.8 458.0h.01M684.1 447.2h.01M674.5 445.2h.01M664.6 460.9h.01M693.1 439.0h.01M703.5 465.5h.01M696.7 463.4h.01M659.3 456.1h.01M716.5 472.6h.01M693.4 434.0h.01M677.5 423.0h.01M705.3 451.3h.01M711.5 448.8h.01M691.3 472.1h.01M682.2 442.2h.01M718.0 452.9h.01M689.8 454.5h.01M700.1 458.6h.01M673.0 447.6h.01M710.3 463.0h.01M673.0 431.3h.01M707.8 435.4h.01M654.9 460.0h.01M682.1 422.7h.01M702.7 463.5h.01M714.6 457.8h.01M718.1 471.3h.01M712.6 458.9h.01M694.6 441.6h.01M710.7 443.0h.01M684.1 449.2h.01M723.9 459.6h.01M681.0 434.5h.01M684.5 425.3h.01M692.0 469.6h.01M700.5 476.2h.01M724.2 465.6h.01M688.2 421.0h.01M718.1 476.7h.01M715.9 451.5h.01M668.3 427.2h.01M653.0 455.7h.01M670.0 443.2h.01M683.3 419.1h.01M684.6 432.1h.01M686.3 447.4h.01M712.1 476.3h.01M721.0 444.4h.01M727.0 461.3h.01M654.5 454.0h.01M667.7 441.1h.01M713.7 449.4h.01M667.2 451.4h.01M717.9 461.5h.01M692.3 446.4h.01M667.3 449.2h.01M679.1 430.4h.01M685.9 444.4h.01M700.2 470.4h.01M715.3 466.9h.01M716.8 440.5h.01M678.6 428.4h.01M719.9 473.8h.01M706.9 453.3h.01M659.2 459.8h.01M725.9 468.9h.01M665.0 451.4h.01M549.6 439.6h.01M548.0 449.4h.01M556.0 450.6h.01M553.0 476.0h.01M543.6 483.4h.01M540.0 476.0h.01M748.4 567.6h.01M747.7 561.2h.01M749.7 556.6h.01M751.7 552.9h.01M752.2 561.4h.01M741.6 546.2h.01M756.0 553.8h.01M743.3 533.2h.01M744.8 566.4h.01M748.6 548.0h.01M751.0 548.9h.01M752.8 542.6h.01M739.1 540.5h.01M745.6 535.7h.01M751.2 538.3h.01M746.0 543.9h.01M749.7 551.4h.01M741.2 537.3h.01M740.9 549.0h.01M743.8 564.2h.01M738.3 531.1h.01M745.6 548.0h.01M740.6 534.7h.01M742.1 541.1h.01M750.1 563.5h.01M740.8 531.6h.01M747.2 538.8h.01M739.8 543.4h.01M736.0 524.0h.01M719.4 535.4h.01M728.0 536.6h.01M721.6 546.0h.01M726.6 554.4h.01M739.0 559.0h.01M724.0 501.6h.01M753.0 563.0h.01M946.2 375.0h.01M955.0 376.5h.01M967.0 371.2h.01M888.8 426.8h.01M897.5 438.2h.01M907.5 546.2h.01M911.2 544.0h.01M901.2 560.0h.01M902.5 563.2h.01M896.2 572.5h.01M895.5 577.5h.01M896.8 585.0h.01M895.0 575.0h.01M903.8 623.2h.01M771.9 600.7h.01M765.5 592.7h.01M736.7 593.7h.01M767.8 595.8h.01M724.6 597.4h.01M743.6 594.2h.01M754.0 606.4h.01M761.5 589.4h.01M760.8 604.4h.01M713.6 583.7h.01M742.6 604.4h.01M731.4 598.5h.01M743.7 600.8h.01M772.7 587.2h.01M746.9 594.7h.01M757.9 601.7h.01M758.7 586.4h.01M761.3 596.0h.01M772.6 596.7h.01M750.0 600.3h.01M773.1 593.3h.01M776.2 579.0h.01M782.7 584.3h.01M785.3 583.3h.01M767.9 601.3h.01M748.9 590.2h.01M723.0 590.4h.01M785.8 587.0h.01M777.6 598.7h.01M781.9 579.7h.01M768.2 586.2h.01M730.9 595.3h.01M766.7 598.9h.01M774.0 589.8h.01M734.6 590.0h.01M773.8 582.1h.01M728.1 597.5h.01M777.5 586.8h.01M779.1 595.9h.01M755.0 602.7h.01M771.0 580.9h.01M770.8 583.9h.01M726.1 594.8h.01M779.9 588.8h.01M761.2 585.2h.01M719.6 587.9h.01M786.1 591.6h.01M761.0 592.2h.01M764.2 601.2h.01M758.4 590.7h.01M777.5 582.5h.01M708.6 580.5h.01M740.7 596.4h.01M769.3 592.7h.01M738.0 596.5h.01M717.0 587.3h.01M704.7 578.5h.01M714.3 586.3h.01M738.7 603.6h.01M750.7 604.2h.01M740.0 588.9h.01M729.7 590.4h.01M750.2 595.2h.01M759.2 598.3h.01M756.5 594.9h.01M755.6 591.3h.01M747.6 606.4h.01M783.2 589.6h.01M716.4 590.0h.01M747.8 603.1h.01M779.0 578.2h.01M780.5 593.3h.01M720.5 594.1h.01M726.0 589.5h.01M753.6 599.9h.01M752.7 593.8h.01M776.8 594.0h.01M765.7 584.7h.01M767.4 589.8h.01M775.6 601.3h.01M735.9 600.4h.01M740.6 593.5h.01M741.1 602.2h.01M727.7 592.5h.01M754.6 586.4h.01M744.7 606.2h.01M782.4 596.2h.01M733.1 602.0h.01M767.2 581.5h.01M766.1 604.9h.01M734.0 596.4h.01M780.5 586.0h.01M785.6 579.4h.01M760.8 601.6h.01M770.1 603.3h.01M735.6 603.7h.01M728.9 600.9h.01M746.4 599.9h.01M763.6 586.7h.01M752.2 590.6h.01M739.2 599.1h.01M700.8 575.5h.01M717.7 593.2h.01M709.0 583.7h.01M769.9 598.1h.01M757.9 606.2h.01M754.4 597.2h.01M748.5 597.3h.01M721.8 596.5h.01M771.1 590.0h.01M763.5 603.9h.01M763.4 583.3h.01M733.5 593.7h.01M777.5 591.3h.01M764.0 596.7h.01M742.0 591.1h.01M744.1 598.0h.01M752.0 587.6h.01M780.5 582.6h.01M775.4 584.9h.01M720.1 591.1h.01M764.4 590.2h.01M772.3 602.8h.01M757.2 597.2h.01M723.9 593.9h.01M737.8 591.2h.01M780.3 598.6h.01M752.0 597.8h.01M710.5 585.4h.01M744.5 602.9h.01M784.1 581.0h.01M756.2 588.6h.01M724.9 591.9h.01M763.9 594.3h.01M707.6 578.2h.01M703.2 576.9h.01M755.9 605.2h.01M741.8 599.0h.01M755.8 599.0h.01M746.9 591.9h.01M731.5 589.2h.01M762.8 599.3h.01M775.1 592.1h.01M725.8 599.2h.01M774.6 597.8h.01M748.9 593.0h.01M773.8 579.9h.01M732.7 591.5h.01M776.7 589.1h.01M750.2 606.5h.01M782.5 562.5h.01M787.5 565.0h.01M783.8 570.0h.01M785.0 567.0h.01M740.6 532.2h.01M744.0 546.6h.01M748.0 550.3h.01M740.5 542.1h.01M745.3 565.4h.01M750.7 549.5h.01M747.6 538.7h.01M754.6 557.6h.01M754.7 552.8h.01M747.0 547.8h.01M748.1 556.1h.01M746.4 552.9h.01M743.4 535.5h.01M749.3 571.4h.01M753.2 545.2h.01M750.2 538.9h.01M738.8 539.3h.01M742.7 541.0h.01M752.0 552.6h.01M744.2 551.2h.01M751.2 558.2h.01M748.2 561.3h.01M738.8 544.3h.01M745.9 559.0h.01M745.4 561.4h.01M746.8 543.1h.01M752.9 560.0h.01M720.0 535.0h.01M728.2 536.8h.01M722.0 545.8h.01M726.5 554.5h.01M735.8 524.2h.01M739.2 559.0h.01M740.0 551.2h.01M753.0 563.0h.01M929.7 747.8h.01M906.6 735.9h.01M1022.3 770.2h.01M1021.2 659.6h.01M979.1 752.9h.01M998.7 702.0h.01M958.2 677.2h.01M1004.2 705.7h.01M991.9 694.9h.01M1017.3 770.4h.01M922.8 746.9h.01M1003.4 713.3h.01M970.0 776.3h.01M994.4 742.7h.01M1000.8 745.2h.01M962.1 744.3h.01M962.7 703.7h.01M944.6 666.2h.01M972.0 782.1h.01M897.8 718.7h.01M947.2 713.8h.01M949.1 748.1h.01M958.7 770.4h.01M970.3 697.8h.01M999.6 678.3h.01M945.3 662.8h.01M947.7 706.0h.01M963.0 767.4h.01M991.1 681.7h.01M970.3 679.4h.01M970.0 786.6h.01M1027.9 659.4h.01M990.1 781.0h.01M957.9 767.3h.01M958.1 708.8h.01M994.2 649.3h.01M961.3 697.0h.01M927.5 700.8h.01M971.7 716.9h.01M910.9 770.4h.01M984.7 732.4h.01M991.6 761.4h.01M1034.7 746.5h.01M942.4 753.5h.01M981.6 689.6h.01M974.5 686.0h.01M1037.5 668.3h.01M986.8 753.6h.01M942.6 780.9h.01M999.6 739.1h.01M1039.2 693.0h.01M1002.1 721.0h.01M1014.7 650.6h.01M1021.2 633.9h.01M1007.6 718.8h.01M1026.8 724.6h.01M982.5 770.1h.01M1036.0 724.7h.01M946.2 762.9h.01M967.4 720.3h.01M933.5 782.8h.01M1013.5 672.3h.01M996.7 729.4h.01M997.8 678.5h.01M994.1 690.9h.01M934.6 721.9h.01M896.3 710.2h.01M993.6 774.6h.01M924.1 785.6h.01M1013.6 697.6h.01M933.8 755.4h.01M974.2 677.8h.01M991.3 750.1h.01M927.0 719.6h.01M957.7 705.7h.01M952.6 719.0h.01M978.6 689.1h.01M911.6 782.8h.01M976.4 752.4h.01M899.5 716.9h.01M1048.9 730.6h.01M935.8 706.3h.01M928.4 734.0h.01M920.0 729.7h.01M941.7 691.1h.01M933.8 731.9h.01M949.7 760.5h.01M989.9 703.4h.01M936.0 691.7h.01M977.7 735.0h.01M999.8 752.4h.01M948.4 701.4h.01M985.0 711.0h.01M1035.9 721.8h.01M1006.0 744.6h.01M1012.1 756.6h.01M1046.2 726.7h.01M978.6 756.4h.01M1026.3 721.8h.01M1032.2 731.1h.01M1033.4 743.2h.01M942.4 681.1h.01M981.2 719.1h.01M1029.7 747.5h.01M965.9 668.4h.01M937.9 673.4h.01M956.8 695.7h.01M1010.2 672.9h.01M989.3 674.1h.01M948.0 691.9h.01M965.9 693.4h.01M932.3 761.3h.01M962.8 770.4h.01M1007.7 778.2h.01M912.2 754.2h.01M999.2 663.5h.01M915.6 759.1h.01M1005.2 671.0h.01M943.3 750.1h.01M1014.3 648.0h.01M1006.6 739.6h.01M1043.9 674.7h.01M997.9 715.3h.01M965.8 754.1h.01M1034.9 687.8h.01M967.6 743.9h.01M1028.7 650.5h.01M1023.3 766.8h.01M927.7 771.9h.01M963.2 748.7h.01M939.6 696.8h.01M1007.7 686.0h.01M992.4 686.4h.01M974.3 735.2h.01M994.6 670.9h.01M1032.2 644.4h.01M1003.0 752.1h.01M950.0 740.5h.01M1021.7 636.8h.01M996.7 747.2h.01M1021.1 704.4h.01M1021.1 672.4h.01M1022.3 691.1h.01M1017.2 637.0h.01M984.2 686.7h.01M997.8 719.5h.01M1017.7 741.3h.01M948.3 712.2h.01M1037.6 748.0h.01M946.2 766.9h.01M945.1 682.1h.01M952.8 723.4h.01M978.4 775.9h.01M1000.1 777.4h.01M1002.4 728.1h.01M953.8 717.3h.01M1006.3 767.0h.01M932.1 767.3h.01M937.9 772.3h.01M947.6 671.3h.01M953.7 782.2h.01M956.9 741.0h.01M1017.3 670.4h.01M947.0 751.7h.01M952.6 667.4h.01M967.0 737.3h.01M979.1 655.4h.01M917.7 777.8h.01M1038.7 677.4h.01M982.2 661.4h.01M1025.7 688.2h.01M951.5 687.2h.01M942.2 726.2h.01M1037.7 685.4h.01M985.1 676.1h.01M1020.4 753.7h.01M1027.3 680.6h.01M939.3 783.1h.01M997.9 684.7h.01M991.8 710.8h.01M987.6 760.1h.01M929.3 740.7h.01M1010.5 772.5h.01M1000.4 653.1h.01M1026.8 763.4h.01M988.1 739.9h.01M998.2 740.2h.01M905.3 724.7h.01M961.3 677.0h.01M984.1 736.3h.01M932.8 715.1h.01M1017.8 726.5h.01M939.1 678.4h.01M999.6 754.6h.01M990.8 719.5h.01M1008.2 678.7h.01M1037.6 670.4h.01M965.7 769.5h.01M937.5 745.8h.01M1023.4 736.3h.01M1009.1 737.0h.01M1033.3 749.2h.01M1006.7 771.6h.01M976.4 700.2h.01M978.5 739.5h.01M957.5 717.4h.01M919.8 780.6h.01M1016.7 696.8h.01M997.4 673.2h.01M924.0 721.7h.01M958.8 777.4h.01M956.1 774.7h.01M981.4 669.8h.01M916.0 766.9h.01M962.1 726.4h.01M967.6 722.7h.01M944.8 738.1h.01M969.8 765.8h.01M1009.7 708.5h.01M905.0 727.7h.01M954.6 756.7h.01M947.0 776.5h.01M991.4 691.9h.01M1029.6 723.4h.01M1021.2 719.5h.01M995.9 754.1h.01M938.8 703.9h.01M945.6 735.5h.01M948.7 724.2h.01M995.7 699.7h.01M939.9 672.9h.01M905.3 710.4h.01M983.2 772.0h.01M1012.0 687.9h.01M959.8 755.1h.01M930.9 754.5h.01M1039.2 724.7h.01M1021.7 760.9h.01M978.9 781.0h.01M962.0 708.7h.01M902.0 716.4h.01M1024.7 666.7h.01M931.7 784.5h.01M1019.4 743.7h.01M1035.9 679.2h.01M1000.7 655.9h.01M932.0 743.8h.01M1001.1 702.7h.01M964.6 700.5h.01M935.6 724.7h.01M1029.3 648.7h.01M979.6 670.6h.01M1017.7 643.0h.01M945.4 773.9h.01M982.9 741.3h.01M1038.2 721.5h.01M978.2 761.7h.01M979.5 701.5h.01M1002.4 764.9h.01M1028.1 727.8h.01M989.1 735.9h.01M998.2 711.1h.01M991.1 723.1h.01M1013.5 766.1h.01M988.8 705.1h.01M981.5 675.0h.01M928.5 755.7h.01M1024.6 651.9h.01M1000.0 686.0h.01M981.8 732.3h.01M1014.3 722.9h.01M930.2 723.0h.01M992.7 716.6h.01M1011.3 676.7h.01M974.6 756.8h.01M974.0 774.0h.01M923.8 762.1h.01M1034.6 738.5h.01M988.3 698.0h.01M982.7 762.4h.01M1008.1 658.3h.01M1043.8 728.3h.01M958.5 725.7h.01M917.4 787.7h.01M945.6 700.7h.01M1010.6 654.9h.01M974.8 708.6h.01M918.1 707.9h.01M941.2 666.8h.01M1020.2 765.6h.01M1003.8 696.0h.01M953.1 760.5h.01M993.1 765.2h.01M951.8 681.3h.01M1025.8 707.9h.01M1036.4 652.6h.01M1004.9 682.1h.01M1010.4 680.7h.01M897.3 724.2h.01M1037.1 703.5h.01M1016.1 731.2h.01M989.9 666.8h.01M1024.1 710.4h.01M1030.3 735.9h.01M936.9 678.5h.01M989.8 752.1h.01M948.4 685.7h.01M966.9 715.2h.01M1017.3 633.1h.01M1048.0 675.5h.01M942.4 737.7h.01M1025.1 700.2h.01M945.6 727.1h.01M967.1 728.7h.01M924.2 727.1h.01M1003.9 664.4h.01M973.4 689.5h.01M930.6 714.6h.01M1016.6 657.3h.01M922.1 753.4h.01M1007.5 754.0h.01M932.0 708.7h.01M979.3 697.4h.01M1014.5 742.4h.01M979.9 662.2h.01M980.4 696.0h.01M1004.5 748.7h.01M917.2 704.4h.01M1034.5 682.4h.01M993.4 728.0h.01M948.0 773.5h.01M922.0 775.3h.01M1034.1 644.6h.01M955.9 681.4h.01M1024.8 681.9h.01M1013.7 736.1h.01M966.0 706.1h.01M940.0 676.5h.01M930.6 776.0h.01M1013.5 733.8h.01M917.0 773.4h.01M944.0 743.0h.01M926.3 756.0h.01M932.2 674.8h.01M979.1 765.5h.01M961.7 687.2h.01M907.6 729.5h.01M1038.5 680.2h.01M974.3 751.9h.01M946.3 729.7h.01M958.0 721.2h.01M1014.2 679.3h.01M1006.4 695.5h.01M1045.2 670.4h.01M985.1 655.1h.01M933.1 712.6h.01M910.5 742.2h.01M993.8 746.3h.01M975.4 705.7h.01M924.3 707.5h.01M970.6 674.2h.01M1045.4 682.4h.01M1033.6 723.5h.01M962.5 664.7h.01M1007.0 645.2h.01M984.1 743.3h.01M951.5 770.2h.01M1018.0 718.5h.01M1017.1 698.9h.01M918.5 718.6h.01M1016.9 721.2h.01M986.9 675.9h.01M1041.7 683.3h.01M964.3 755.6h.01M1003.2 701.6h.01M964.9 666.4h.01M958.7 701.4h.01M943.1 675.0h.01M1009.5 650.8h.01M1034.0 728.5h.01M1004.8 742.2h.01M1005.0 662.8h.01M957.5 747.6h.01M960.9 719.2h.01M989.4 777.7h.01M981.7 766.7h.01M967.4 699.9h.01M941.0 700.1h.01M1024.0 712.5h.01M1009.6 749.6h.01M980.5 782.2h.01M962.6 681.0h.01M974.6 692.1h.01M1020.6 642.4h.01M996.5 777.9h.01M987.1 767.6h.01M964.3 724.4h.01M969.1 730.1h.01M1022.2 681.7h.01M1047.3 690.6h.01M946.6 683.7h.01M925.8 782.0h.01M950.2 733.9h.01M1044.8 715.5h.01M979.9 716.9h.01M951.0 758.3h.01M928.0 759.0h.01M1035.3 654.4h.01M1003.6 729.5h.01M955.3 687.5h.01M1040.7 715.6h.01M957.7 778.9h.01M963.1 713.7h.01M1029.7 706.1h.01M1034.3 717.1h.01M1013.8 702.1h.01M1046.3 741.3h.01M979.6 754.8h.01M1013.6 718.4h.01M962.9 732.9h.01M931.8 699.7h.01M1019.1 662.7h.01M971.5 740.1h.01M1017.9 746.6h.01M957.5 672.5h.01M955.4 743.1h.01M944.5 729.5h.01M904.2 707.5h.01M943.7 769.9h.01M945.0 688.3h.01M1021.1 706.4h.01M962.4 785.4h.01M980.1 704.2h.01M941.9 745.8h.01M971.4 768.3h.01M1023.3 696.5h.01M1008.4 723.1h.01M896.2 715.1h.01M1028.5 734.4h.01M1006.4 750.0h.01M963.5 758.1h.01M993.7 660.0h.01M956.5 715.5h.01M1020.7 693.5h.01M936.6 775.5h.01M1046.3 693.3h.01M936.2 743.4h.01M1008.8 765.7h.01M996.1 731.8h.01M1006.2 727.2h.01M987.3 733.1h.01M973.8 682.8h.01M964.6 760.9h.01M1032.3 696.8h.01M939.9 771.7h.01M957.1 784.5h.01M923.5 724.0h.01M990.2 740.3h.01M1004.8 650.8h.01M1042.4 718.7h.01M1016.2 666.7h.01M1016.3 625.6h.01M1039.9 720.5h.01M1044.9 687.2h.01M980.8 771.5h.01M978.1 668.1h.01M982.2 751.3h.01M979.4 746.7h.01M960.9 666.2h.01M961.4 682.9h.01M941.1 764.5h.01M1003.2 774.9h.01M1037.8 707.2h.01M1024.7 763.6h.01M988.0 671.6h.01M997.3 691.0h.01M921.8 730.2h.01M1009.5 761.6h.01M1003.3 760.2h.01M990.9 708.6h.01M1022.5 674.2h.01M974.7 783.9h.01M973.4 768.3h.01M1016.7 728.4h.01M1005.0 699.3h.01M984.9 689.8h.01M996.8 761.2h.01M956.1 709.1h.01M934.9 741.5h.01M902.8 718.5h.01M1004.2 731.5h.01M1020.6 713.3h.01M910.9 750.0h.01M1006.4 659.9h.01M1030.2 690.4h.01M1031.5 647.1h.01M996.7 694.7h.01M976.9 724.7h.01M918.7 760.4h.01M1004.4 776.8h.01M957.6 764.7h.01M1014.9 706.2h.01M985.9 686.0h.01M910.6 744.5h.01M976.2 713.8h.01M982.2 672.3h.01M987.8 762.1h.01M1027.0 698.1h.01M1011.2 697.3h.01M910.4 773.7h.01M1004.5 688.4h.01M979.9 690.9h.01M969.3 718.4h.01M1039.6 673.2h.01M963.0 736.2h.01M929.4 705.2h.01M940.3 711.4h.01M944.1 691.8h.01M949.6 721.8h.01M997.5 742.5h.01M1003.3 658.0h.01M970.5 755.1h.01M940.0 737.0h.01M982.5 721.2h.01M931.6 685.5h.01M961.4 778.5h.01M938.0 690.1h.01M981.6 756.3h.01M1010.7 747.7h.01M1022.3 655.6h.01M974.1 777.1h.01M953.5 736.4h.01M995.3 661.7h.01M984.5 695.4h.01M1047.6 734.2h.01M966.1 751.9h.01M993.1 705.6h.01M919.7 757.7h.01M917.5 784.8h.01M1002.4 736.6h.01M1019.9 678.5h.01M999.8 671.2h.01M983.1 715.1h.01M896.2 706.4h.01M954.3 708.6h.01M967.3 735.3h.01M975.9 744.2h.01M942.5 756.9h.01M943.8 704.5h.01M993.7 733.5h.01M970.7 724.8h.01M943.9 775.6h.01M1009.4 758.7h.01M972.3 779.9h.01M1011.2 720.4h.01M977.3 704.5h.01M949.4 754.6h.01M1005.8 702.3h.01M1020.4 770.4h.01M981.0 741.8h.01M992.9 751.5h.01M952.6 658.8h.01M931.3 770.3h.01M1017.6 672.7h.01M965.1 698.5h.01M1027.2 664.4h.01M1043.7 692.7h.01M1020.3 756.1h.01M971.9 756.5h.01M1043.2 666.4h.01M937.5 762.5h.01M1017.8 762.2h.01M952.9 754.9h.01M931.3 746.6h.01M1024.9 731.4h.01M1003.2 686.6h.01M970.5 752.7h.01M1026.3 678.4h.01M1017.5 679.4h.01M1002.2 778.6h.01M948.3 665.6h.01M992.1 676.0h.01M982.7 779.4h.01M1012.9 690.6h.01M1017.9 758.4h.01M994.0 663.4h.01M997.0 662.4h.01M945.5 696.9h.01M926.9 763.2h.01M1014.0 658.4h.01M1042.7 723.9h.01M938.4 756.6h.01M919.5 755.2h.01M972.2 661.9h.01M938.9 776.1h.01M980.3 759.9h.01M978.5 675.7h.01M929.7 758.6h.01M1030.3 672.0h.01M959.0 681.9h.01M969.1 726.2h.01M1008.9 716.7h.01M970.5 668.6h.01M899.9 721.4h.01M973.9 711.1h.01M1021.7 626.0h.01M899.5 724.1h.01M973.5 702.2h.01M1007.5 674.4h.01M972.9 761.1h.01M913.0 779.8h.01M929.7 763.9h.01M979.7 744.2h.01M983.9 729.9h.01M963.2 691.6h.01M1042.1 686.0h.01M916.4 782.1h.01M1001.0 725.8h.01M924.0 779.0h.01M924.3 752.9h.01M914.5 777.2h.01M939.3 709.2h.01M1020.9 751.5h.01M958.8 782.4h.01M930.2 767.9h.01M925.3 717.6h.01M950.6 736.7h.01M917.0 764.9h.01M963.7 727.8h.01M1050.8 728.2h.01M1026.0 736.3h.01M997.9 676.5h.01M1035.3 730.5h.01M1015.1 763.7h.01M977.3 707.1h.01M960.8 765.8h.01M1023.6 759.1h.01M948.9 676.9h.01M935.1 738.7h.01M946.3 716.5h.01M1035.8 664.1h.01M954.6 758.7h.01M993.8 721.2h.01M907.3 708.2h.01M990.2 658.7h.01M965.4 690.7h.01M1023.4 719.6h.01M965.1 658.7h.01M977.2 766.5h.01M976.5 658.8h.01M1038.3 651.3h.01M939.0 718.1h.01M929.4 743.8h.01M940.6 689.3h.01M972.5 785.3h.01M1000.8 646.2h.01M940.6 743.7h.01M1026.9 649.4h.01M991.4 770.8h.01M988.4 764.0h.01M949.2 779.7h.01M960.9 734.1h.01M1008.7 745.1h.01M1006.8 714.2h.01M980.5 768.0h.01M948.8 758.3h.01M1015.0 749.4h.01M959.2 694.2h.01M1004.8 667.9h.01M973.6 721.5h.01M968.9 746.8h.01M944.5 780.9h.01M1023.8 739.8h.01M1035.3 705.4h.01M926.2 758.9h.01M954.2 777.8h.01M986.0 709.1h.01M1024.8 648.7h.01M950.9 709.5h.01M941.2 734.2h.01M991.9 725.6h.01M969.2 705.8h.01M1044.8 660.4h.01M935.9 709.1h.01M958.6 688.9h.01M1046.7 698.3h.01M970.0 720.9h.01M930.2 772.3h.01M937.9 784.2h.01M998.6 727.9h.01M946.7 780.3h.01M961.8 674.4h.01M993.3 737.6h.01M914.5 783.7h.01M968.8 767.8h.01M998.4 758.8h.01M1035.7 672.3h.01M1029.1 763.6h.01M978.0 720.2h.01M955.3 784.7h.01M924.1 777.2h.01M1030.6 669.3h.01M1044.4 680.5h.01M982.8 704.5h.01M922.5 784.0h.01M1015.4 751.8h.01M1014.9 692.0h.01M1042.0 705.5h.01M975.1 770.0h.01M1034.8 693.3h.01M954.0 671.8h.01M987.1 668.7h.01M1010.8 777.3h.01M910.9 746.7h.01M939.3 727.9h.01M916.5 724.6h.01M1028.9 737.3h.01M966.5 749.6h.01M940.4 670.7h.01M959.0 751.0h.01M915.0 729.3h.01M1039.7 731.0h.01M988.3 690.4h.01M1047.1 703.1h.01M956.4 693.3h.01M952.0 763.7h.01M931.0 765.9h.01M1023.6 664.9h.01M912.6 738.1h.01M972.8 771.4h.01M965.5 681.3h.01M1006.8 655.7h.01M962.9 670.3h.01M976.1 772.5h.01M990.7 696.7h.01M1046.7 738.6h.01M1014.2 769.0h.01M967.9 739.7h.01M1038.2 701.4h.01M1035.7 650.7h.01M960.3 783.4h.01M1011.5 727.5h.01M1025.3 744.6h.01M986.1 666.7h.01M932.6 681.1h.01M931.5 695.8h.01M958.9 714.6h.01M984.7 752.2h.01M968.3 663.4h.01M969.1 684.2h.01M928.7 692.7h.01M978.7 665.7h.01M1041.4 662.4h.01M989.8 774.8h.01M1033.0 720.2h.01M943.7 707.5h.01M975.4 754.5h.01M1034.1 649.2h.01M987.0 673.4h.01M994.9 717.3h.01M968.2 761.9h.01M1040.7 671.2h.01M941.8 759.0h.01M973.1 658.9h.01M900.0 710.8h.01M987.0 664.1h.01M955.1 780.6h.01M1026.2 758.8h.01M924.1 734.4h.01M979.0 733.3h.01M931.4 734.5h.01M990.7 765.8h.01M1011.8 761.0h.01M945.4 754.9h.01M922.3 718.2h.01M996.5 648.2h.01M977.6 711.8h.01M966.0 732.3h.01M937.2 780.4h.01M1003.7 691.3h.01M1026.2 727.5h.01M982.3 691.4h.01M925.4 751.0h.01M962.8 739.3h.01M1002.8 772.4h.01M969.0 699.1h.01M985.9 740.6h.01M995.8 680.9h.01M1002.4 694.7h.01M1027.0 693.5h.01M985.9 693.7h.01M975.9 667.3h.01M955.5 735.4h.01M942.8 718.1h.01M939.1 707.1h.01M979.8 657.4h.01M1023.6 676.7h.01M1000.4 765.0h.01M1005.6 758.4h.01M923.1 758.2h.01M1017.8 744.6h.01M945.6 709.6h.01M962.7 661.0h.01M1001.8 767.1h.01M961.4 712.0h.01M1022.0 709.6h.01M967.0 656.9h.01M1029.7 720.0h.01M1003.3 710.8h.01M1005.8 653.7h.01M1028.4 707.4h.01M1000.0 704.5h.01M898.2 705.5h.01M969.5 712.6h.01M976.0 730.4h.01M976.6 678.1h.01M1029.1 702.1h.01M1012.6 625.6h.01M921.2 703.8h.01M1020.4 740.4h.01M918.7 782.4h.01M964.8 735.4h.01M1003.8 756.0h.01M976.6 697.7h.01M997.7 773.0h.01M1037.9 727.0h.01M1027.3 751.3h.01M963.1 781.7h.01M971.9 735.6h.01M953.2 682.8h.01M1020.3 725.4h.01M1018.8 660.7h.01M1018.4 704.7h.01M914.9 754.6h.01M984.7 764.3h.01M1015.5 703.4h.01M924.8 703.2h.01M1007.4 670.8h.01M948.5 777.9h.01M957.3 682.9h.01M1035.8 710.3h.01M916.7 735.3h.01M908.2 726.8h.01M981.6 723.2h.01M1040.0 665.0h.01M1021.6 729.4h.01M1034.0 713.0h.01M1010.0 668.9h.01M931.7 752.4h.01M1039.2 698.9h.01M1015.2 664.2h.01M1020.7 737.6h.01M952.0 777.1h.01M967.0 780.0h.01M1030.9 744.1h.01M936.9 701.4h.01M982.5 775.6h.01M976.3 783.0h.01M936.6 727.5h.01M1019.7 730.4h.01M937.2 747.9h.01M982.5 694.9h.01M972.7 725.3h.01M987.3 715.7h.01M997.9 745.6h.01M921.9 722.6h.01M941.0 702.1h.01M1041.6 712.1h.01M953.5 775.6h.01M1005.7 665.0h.01M966.3 676.8h.01M989.1 683.8h.01M984.7 727.1h.01M940.1 681.7h.01M920.3 771.6h.01M941.0 705.4h.01M923.9 766.7h.01M1039.1 710.6h.01M1036.0 657.6h.01M987.5 781.4h.01M1031.5 693.5h.01M1037.2 689.7h.01M925.5 737.4h.01M948.7 782.5h.01M904.4 730.6h.01M1012.3 656.5h.01M955.3 728.5h.01M916.2 761.3h.01M1039.9 667.1h.01M1022.9 687.1h.01M960.2 703.2h.01M941.6 672.2h.01M1000.8 695.8h.01M915.7 769.1h.01M994.4 657.6h.01M1009.0 644.5h.01M951.1 702.6h.01M996.0 768.1h.01M940.1 774.0h.01M1001.6 756.5h.01M967.1 770.7h.01M1015.6 707.9h.01M940.5 683.5h.01M1012.0 649.2h.01M988.0 706.7h.01M966.0 713.5h.01M975.4 733.1h.01M911.1 734.4h.01M945.2 777.9h.01M960.4 769.4h.01M981.0 679.0h.01M914.4 748.6h.01M960.3 763.7h.01M954.6 750.6h.01M994.7 780.4h.01M1045.0 668.5h.01M980.6 681.0h.01M1024.9 641.0h.01M1038.2 740.2h.01M926.9 710.2h.01M999.8 724.0h.01M1009.9 640.6h.01M976.4 674.3h.01M1009.9 732.2h.01M928.3 751.1h.01M984.7 684.6h.01M918.1 739.5h.01M1011.1 695.4h.01M988.1 749.4h.01M984.1 657.5h.01M1031.1 699.3h.01M1018.2 695.6h.01M1049.2 683.6h.01M1046.8 688.8h.01M1041.8 656.1h.01M921.9 763.8h.01M972.3 753.9h.01M922.6 728.0h.01M980.1 724.5h.01M1036.7 742.0h.01M933.0 692.0h.01M1016.8 709.4h.01M914.0 743.8h.01M1027.4 719.9h.01M1035.3 670.2h.01M1000.0 718.8h.01M935.5 693.5h.01M1017.1 713.1h.01M958.6 666.3h.01M1015.2 733.0h.01M977.7 763.7h.01M924.5 732.3h.01M1029.0 665.8h.01M996.5 655.5h.01M987.1 681.7h.01M961.4 774.5h.01M965.3 730.1h.01M1019.1 684.3h.01M976.5 716.9h.01M972.0 744.7h.01M999.8 756.7h.01M963.0 721.7h.01M1025.0 692.2h.01M934.7 703.1h.01M972.4 670.2h.01M955.7 739.0h.01M971.5 657.3h.01M1015.9 757.9h.01M957.2 662.9h.01M947.7 696.1h.01M982.2 729.1h.01M992.6 735.4h.01M965.5 664.6h.01M1007.8 756.9h.01M1000.4 659.3h.01M945.6 744.1h.01M1025.3 697.3h.01M1054.0 720.1h.01M1038.4 750.8h.01M954.8 763.2h.01M1021.5 665.3h.01M997.1 669.0h.01M979.5 685.1h.01M992.1 743.5h.01M899.2 727.7h.01M942.5 664.8h.01M1009.9 730.1h.01M1035.5 659.5h.01M1037.9 662.5h.01M978.3 772.6h.01M1047.0 685.9h.01M1008.1 731.7h.01M949.2 681.0h.01M997.4 700.5h.01M1021.9 711.7h.01M984.6 773.1h.01M991.7 754.3h.01M934.4 701.1h.01M1023.8 659.7h.01M1026.6 645.4h.01M949.1 710.1h.01M962.8 718.1h.01M952.6 773.5h.01M925.6 787.1h.01M979.7 777.6h.01M1016.2 768.7h.01M905.9 734.1h.01M974.1 715.8h.01M939.1 765.6h.01M951.0 744.9h.01M961.8 776.7h.01M971.0 699.9h.01M1028.3 721.7h.01M951.1 669.5h.01M1025.2 685.1h.01M936.0 672.2h.01M950.5 706.3h.01M949.8 673.4h.01M947.6 703.1h.01M956.2 755.2h.01M1028.3 654.2h.01M955.6 748.5h.01M983.5 706.8h.01M942.6 740.2h.01M942.1 696.1h.01M1020.2 746.9h.01M1014.8 720.5h.01M988.5 695.1h.01M937.0 715.4h.01M957.3 702.8h.01M936.3 729.6h.01M913.6 781.8h.01M1006.4 708.3h.01M973.8 746.5h.01M1043.5 697.8h.01M1034.3 698.6h.01M939.6 741.2h.01M947.4 689.7h.01M939.5 785.2h.01M1029.1 646.6h.01M991.9 730.0h.01M984.2 759.8h.01M1034.0 706.9h.01M974.7 661.3h.01M998.5 731.7h.01M1005.2 724.2h.01M975.6 655.9h.01M1022.5 645.2h.01M955.9 778.7h.01M911.0 768.2h.01M1022.2 669.5h.01M1013.1 747.4h.01M961.6 658.2h.01M986.9 742.6h.01M1000.4 644.4h.01M1021.9 748.7h.01M954.2 663.4h.01M1016.6 774.1h.01M926.5 784.1h.01M968.4 673.8h.01M927.4 713.3h.01M907.5 705.7h.01M994.6 725.2h.01M1036.5 692.6h.01M930.8 688.9h.01M951.4 746.9h.01M995.4 688.2h.01M1045.3 702.5h.01M1009.8 692.7h.01M988.0 718.7h.01M971.4 722.0h.01M947.2 681.6h.01M964.7 678.8h.01M950.6 685.4h.01M978.4 742.2h.01M1021.6 701.5h.01M960.8 771.8h.01M963.4 762.6h.01M981.3 699.0h.01M1030.7 754.1h.01M964.4 711.4h.01M928.5 721.7h.01M1045.4 736.9h.01M1037.6 687.9h.01M1025.0 714.7h.01M937.9 697.8h.01M937.1 681.6h.01M1019.4 673.6h.01M1014.6 726.9h.01M988.5 676.9h.01M958.8 732.9h.01M1011.6 709.3h.01M957.6 756.6h.01M1033.2 759.3h.01M1040.8 702.8h.01M920.9 765.3h.01M1019.2 686.1h.01M944.9 674.4h.01M981.7 746.9h.01M1020.2 773.8h.01M1044.0 690.6h.01M1009.6 670.9h.01M962.1 760.4h.01M998.9 655.0h.01M970.4 761.9h.01M988.5 649.6h.01M937.9 769.4h.01M995.1 697.3h.01M951.2 715.4h.01M956.5 733.3h.01M920.9 749.1h.01M949.6 717.9h.01M975.7 669.1h.01M983.2 676.7h.01M1029.0 749.7h.01M958.3 669.3h.01M989.6 653.0h.01M1022.2 717.7h.01M987.0 747.8h.01M1004.0 673.3h.01M1006.3 764.8h.01M1040.1 684.6h.01M1003.6 746.5h.01M961.4 700.3h.01M1033.2 665.6h.01M1017.5 738.1h.01M992.4 697.7h.01M1047.3 668.3h.01M1013.7 731.0h.01M1019.3 633.5h.01M948.2 733.3h.01M1026.3 653.1h.01M967.5 766.4h.01M1021.7 723.0h.01M984.6 781.4h.01M984.0 725.5h.01M1018.1 630.9h.01M1004.2 765.3h.01M909.2 738.6h.01M983.4 669.6h.01M1016.0 674.6h.01M1028.3 686.3h.01M927.9 738.3h.01M920.5 783.3h.01M1000.9 683.3h.01M1038.9 657.8h.01M977.9 731.6h.01M1029.9 683.8h.01M919.3 742.1h.01M988.9 713.3h.01M1002.1 748.9h.01M1013.3 710.3h.01M953.0 767.2h.01M1034.7 674.9h.01M1010.8 715.2h.01M976.5 687.0h.01M957.6 660.9h.01M999.6 749.3h.01M1031.0 702.9h.01M908.0 731.4h.01M1000.5 736.0h.01M970.6 784.0h.01M999.6 673.5h.01M992.5 668.6h.01M952.5 727.9h.01M949.8 727.4h.01M934.1 774.3h.01M1027.9 643.5h.01M1031.9 705.7h.01M1007.0 691.4h.01M959.7 745.6h.01M969.6 688.0h.01M976.6 691.5h.01M939.5 693.4h.01M988.0 756.1h.01M971.6 719.7h.01M1009.1 770.4h.01M955.8 667.7h.01M976.7 774.5h.01M1036.2 752.8h.01M979.2 660.2h.01M986.2 770.0h.01M942.8 710.9h.01M993.0 757.6h.01M954.3 660.7h.01M1020.1 640.0h.01M1026.0 658.1h.01M973.5 680.3h.01M1038.0 744.7h.01M994.6 756.3h.01M1029.0 741.2h.01M895.7 704.3h.01M1039.6 690.3h.01M1013.5 728.6h.01M932.5 780.1h.01M1009.2 684.9h.01M1005.9 686.5h.01M934.6 679.4h.01M984.4 663.9h.01M929.2 699.2h.01M1001.7 647.9h.01M956.2 761.9h.01M1013.0 663.6h.01M977.8 671.7h.01M1033.9 656.4h.01M970.8 660.0h.01M954.4 725.7h.01M893.8 708.3h.01M1043.0 659.8h.01M1036.6 713.3h.01M948.5 669.0h.01M967.5 690.9h.01M1030.0 712.4h.01M964.5 708.7h.01M960.9 780.9h.01M921.1 770.0h.01M972.7 765.4h.01M1036.6 739.0h.01M936.4 689.2h.01M1030.9 733.6h.01M995.4 735.8h.01M986.0 640.1h.01M979.5 635.5h.01M975.8 646.0h.01M970.0 642.6h.01M984.1 634.7h.01M990.8 632.5h.01M973.7 631.9h.01M1002.5 621.9h.01M1002.6 636.6h.01M969.8 646.5h.01M987.7 630.9h.01M990.9 640.5h.01M996.9 639.7h.01M964.8 639.9h.01M960.7 650.3h.01M999.8 628.8h.01M978.2 642.9h.01M1012.3 630.3h.01M969.1 636.7h.01M965.0 644.2h.01M1005.0 625.1h.01M994.5 636.9h.01M980.7 632.0h.01M991.3 647.2h.01M972.8 634.9h.01M1006.6 637.9h.01M977.2 632.9h.01M976.2 653.1h.01M989.9 636.3h.01M986.7 647.9h.01M973.9 655.4h.01M1053.6 694.0h.01M1047.7 724.4h.01M1053.1 718.0h.01M1044.5 649.7h.01M1065.8 677.6h.01M1044.4 719.0h.01M1059.3 685.6h.01M1032.2 627.9h.01M1050.1 657.1h.01M1064.4 687.9h.01M1054.8 648.6h.01M1048.1 700.5h.01M1053.9 654.1h.01M1062.0 657.9h.01M1053.1 686.9h.01M1043.7 647.6h.01M1046.5 644.6h.01M1056.7 673.2h.01M1050.7 662.2h.01M1051.6 720.2h.01M1061.1 686.9h.01M1051.9 644.2h.01M1051.0 698.9h.01M1058.5 655.8h.01M1050.3 641.0h.01M1050.0 713.7h.01M1023.7 631.0h.01M1032.3 639.4h.01M1053.3 681.3h.01M1051.4 654.2h.01M1056.9 662.3h.01M1063.7 662.3h.01M1042.6 636.1h.01M1056.2 680.8h.01M1049.2 702.7h.01M1051.9 692.5h.01M1049.1 694.5h.01M1059.1 689.4h.01M1056.2 687.8h.01M1055.6 669.8h.01M1049.6 674.3h.01M1057.9 669.5h.01M1062.8 684.5h.01M1052.7 656.2h.01M1051.8 696.1h.01M1060.8 660.8h.01M1042.7 644.3h.01M1045.1 655.8h.01M1064.3 682.0h.01M1035.4 631.5h.01M1047.9 709.6h.01M1045.8 638.6h.01M1063.5 694.2h.01M1053.1 661.5h.01M1057.6 691.5h.01M1049.7 707.3h.01M1059.9 672.6h.01M1055.2 711.5h.01M1052.4 703.2h.01M1050.0 724.9h.01M1048.6 659.3h.01M1040.9 640.5h.01M1061.6 677.0h.01M1058.7 701.8h.01M1064.0 691.2h.01M1056.8 678.7h.01M1055.1 685.5h.01M1060.3 705.4h.01M1029.3 636.5h.01M1025.7 635.4h.01M1061.6 690.3h.01M1036.0 636.8h.01M1062.9 669.0h.01M1019.2 627.7h.01M1057.9 682.8h.01M1067.3 681.4h.01M1064.6 697.5h.01M1065.2 670.7h.01M1057.9 698.2h.01M1033.0 633.2h.01M1049.6 689.6h.01M1057.3 704.9h.01M1045.9 653.2h.01M1048.5 643.1h.01M1050.1 682.2h.01M1024.6 625.9h.01M1056.3 653.2h.01M1054.6 706.4h.01M1049.0 719.9h.01M1057.9 650.5h.01M1042.6 638.4h.01M1042.6 654.3h.01M1048.5 663.1h.01M1053.7 689.4h.01M903.9 623.0h.01M909.4 696.3h.01M210.4 505.4h.01M178.2 527.1h.01M194.4 561.2h.01M217.5 538.5h.01M181.7 506.9h.01M225.6 551.7h.01M176.2 517.6h.01M156.7 542.5h.01M229.5 552.7h.01M158.5 556.7h.01M184.1 563.2h.01M163.0 542.4h.01M190.0 528.4h.01M227.3 537.8h.01M169.0 532.7h.01M224.2 509.3h.01M176.0 545.4h.01M183.5 505.2h.01M173.9 555.8h.01M196.4 540.7h.01M230.1 546.5h.01M175.7 529.0h.01M208.7 528.0h.01M160.3 541.0h.01M196.2 559.5h.01M168.7 528.3h.01M171.9 537.2h.01M176.5 563.8h.01M206.8 517.6h.01M207.6 543.9h.01M157.9 529.4h.01M147.4 543.3h.01M229.9 543.3h.01M188.6 541.8h.01M218.7 514.1h.01M175.8 560.1h.01M156.9 532.4h.01M208.3 506.2h.01M209.1 512.4h.01M185.8 556.2h.01M172.7 565.4h.01M184.7 520.1h.01M220.7 510.8h.01M183.1 528.4h.01M202.7 566.1h.01M161.2 532.4h.01M197.5 566.6h.01M202.0 548.8h.01M164.7 546.1h.01M188.7 549.3h.01M179.6 524.9h.01M192.0 534.0h.01M209.6 545.7h.01M162.1 561.7h.01M200.9 529.0h.01M207.1 541.3h.01M202.6 539.7h.01M210.4 525.5h.01M153.3 531.4h.01M214.3 516.6h.01M204.5 537.5h.01M184.3 548.3h.01M171.3 548.4h.01M216.4 520.1h.01M198.9 525.5h.01M177.9 538.0h.01M216.9 535.7h.01M170.7 531.6h.01M182.6 513.0h.01M187.6 553.1h.01M174.6 553.1h.01M206.9 503.3h.01M175.1 549.4h.01M177.9 552.9h.01M199.2 511.4h.01M179.1 560.2h.01M188.3 527.1h.01M192.5 552.5h.01M178.3 508.9h.01M153.4 549.8h.01M223.8 517.2h.01M170.5 569.8h.01M221.7 543.7h.01M173.5 519.1h.01M184.5 558.1h.01M200.4 516.2h.01M226.6 542.8h.01M181.4 511.3h.01M174.7 524.2h.01M214.3 549.5h.01M150.6 543.9h.01M208.9 515.6h.01M191.9 526.8h.01M210.1 542.2h.01M204.6 515.3h.01M202.5 503.3h.01M178.1 533.6h.01M162.4 527.8h.01M223.5 538.7h.01M191.3 556.7h.01M156.8 527.1h.01M181.7 535.6h.01M233.2 548.7h.01M171.7 520.1h.01M222.9 534.8h.01M164.0 566.5h.01M194.7 503.3h.01M190.3 514.1h.01M158.6 544.9h.01M193.1 563.3h.01M210.7 523.2h.01M223.5 547.5h.01M153.7 528.9h.01M213.0 529.3h.01M192.8 547.9h.01M210.3 510.6h.01M216.5 532.0h.01M180.3 548.3h.01M234.6 553.1h.01M172.7 527.3h.01M200.5 545.0h.01M187.7 511.2h.01M174.7 536.9h.01M221.2 547.2h.01M197.6 531.1h.01M196.6 524.4h.01M218.1 543.9h.01M149.3 549.0h.01M215.6 540.8h.01M177.3 567.5h.01M197.0 549.2h.01M190.4 511.3h.01M179.6 518.6h.01M218.2 530.8h.01M235.1 549.8h.01M207.6 548.7h.01M148.7 551.5h.01M179.5 516.2h.01M222.6 513.9h.01M205.0 547.5h.01M212.4 507.7h.01M165.3 548.7h.01M201.6 535.2h.01M170.9 551.9h.01M156.0 547.0h.01M183.1 541.4h.01M205.1 523.7h.01M219.0 535.8h.01M205.4 558.3h.01M197.1 546.3h.01M193.9 544.0h.01M173.1 543.8h.01M169.4 557.3h.01M168.1 566.4h.01M164.6 559.5h.01M191.5 531.7h.01M214.4 545.7h.01M227.1 548.1h.01M178.6 545.1h.01M203.8 510.0h.01M205.7 565.1h.01M182.1 537.8h.01M200.4 507.3h.01M199.5 564.4h.01M207.6 500.1h.01M154.4 540.7h.01M185.2 534.2h.01M217.2 546.9h.01M207.7 510.6h.01M216.3 513.8h.01M163.3 550.2h.01M160.9 520.0h.01M212.5 514.6h.01M206.5 525.9h.01M157.4 562.9h.01M202.0 513.7h.01M180.6 532.8h.01M181.8 518.7h.01M235.1 556.7h.01M219.6 526.2h.01M232.3 542.6h.01M160.1 529.8h.01M216.5 517.1h.01M204.9 550.8h.01M154.1 534.9h.01M192.2 505.6h.01M185.9 528.5h.01M168.7 542.1h.01M163.7 557.4h.01M230.7 550.2h.01M191.1 543.8h.01M200.4 537.0h.01M189.2 522.7h.01M183.7 508.4h.01M187.5 507.9h.01M223.0 542.0h.01M158.5 535.4h.01M165.4 555.6h.01M167.4 548.8h.01M198.1 572.0h.01M181.2 540.3h.01M221.9 550.7h.01M195.3 522.3h.01M179.2 550.5h.01M194.9 509.7h.01M194.9 556.0h.01M197.4 501.2h.01M201.9 569.8h.01M190.3 508.3h.01M192.2 517.2h.01M172.8 558.7h.01M168.2 551.1h.01M206.0 553.5h.01M222.2 518.7h.01M150.1 537.6h.01M203.8 544.5h.01M182.1 543.7h.01M176.8 548.3h.01M160.1 546.6h.01M214.7 523.6h.01M147.2 547.4h.01M186.0 549.6h.01M190.0 539.0h.01M204.3 504.6h.01M194.2 538.7h.01M201.6 519.7h.01M166.8 532.8h.01M227.2 540.5h.01M162.1 548.1h.01M188.3 503.9h.01M189.6 558.5h.01M229.9 540.9h.01M157.1 553.4h.01M196.7 544.2h.01M194.9 550.2h.01M209.5 502.0h.01M196.4 511.5h.01M170.6 534.7h.01M183.9 502.3h.01M201.1 561.6h.01M187.7 519.5h.01M214.9 506.7h.01M181.0 527.5h.01M200.5 500.2h.01M156.1 535.8h.01M208.5 561.3h.01M153.8 556.2h.01M203.3 555.5h.01M234.3 542.9h.01M202.1 563.8h.01M214.5 571.0h.01M216.0 575.5h.01M222.4 580.3h.01M225.0 575.5h.01M231.0 575.2h.01M239.2 568.3h.01M244.5 571.0h.01M246.0 576.2h.01M253.5 491.5h.01M257.2 488.5h.01M259.5 487.0h.01M260.2 492.2h.01M243.4 498.7h.01M246.8 506.8h.01M249.8 505.0h.01M238.1 509.9h.01M278.2 529.5h.01M252.8 544.8h.01M214.5 534.2h.01M497.6 579.8h.01M457.2 585.0h.01M501.4 575.8h.01M436.7 580.1h.01M442.3 578.9h.01M509.1 568.2h.01M507.2 531.9h.01M494.8 575.3h.01M487.8 558.0h.01M466.1 573.6h.01M451.1 587.1h.01M422.0 550.7h.01M502.3 557.9h.01M468.3 559.3h.01M453.9 566.2h.01M461.2 571.6h.01M445.0 590.4h.01M512.9 555.6h.01M484.1 556.9h.01M516.2 559.5h.01M460.4 577.4h.01M429.5 567.9h.01M418.6 558.2h.01M439.3 592.1h.01M495.3 570.4h.01M434.4 556.5h.01M483.8 562.7h.01M494.4 584.9h.01M427.9 558.3h.01M449.5 597.8h.01M511.9 559.7h.01M467.9 593.5h.01M432.9 582.6h.01M432.5 552.9h.01M466.3 577.5h.01M423.9 552.5h.01M470.7 584.2h.01M435.5 560.8h.01M505.7 544.0h.01M515.2 542.8h.01M473.5 584.5h.01M428.6 553.6h.01M454.2 563.3h.01M507.6 550.5h.01M482.9 559.9h.01M436.3 568.8h.01M498.7 562.3h.01M442.7 561.2h.01M445.8 566.9h.01M487.1 567.6h.01M455.2 597.0h.01M510.3 532.6h.01M448.5 582.0h.01M501.7 542.8h.01M459.1 597.4h.01M478.7 591.7h.01M432.9 566.6h.01M458.7 567.8h.01M435.9 578.0h.01M470.8 586.9h.01M509.5 542.0h.01M425.8 544.1h.01M497.6 552.5h.01M507.6 529.0h.01M465.1 597.4h.01M504.0 577.0h.01M518.6 560.0h.01M457.0 590.3h.01M462.9 589.7h.01M464.0 580.6h.01M476.6 588.3h.01M428.0 556.0h.01M428.3 541.2h.01M496.9 559.3h.01M503.1 564.0h.01M445.4 596.7h.01M434.5 538.6h.01M441.5 567.0h.01M445.0 581.8h.01M426.2 554.1h.01M499.5 558.4h.01M478.1 577.8h.01M483.7 585.7h.01M478.0 569.5h.01M500.9 548.5h.01M434.1 573.5h.01M481.2 567.2h.01M500.1 556.3h.01M476.3 584.6h.01M467.6 568.0h.01M435.5 534.5h.01M486.3 554.2h.01M458.8 600.3h.01M513.8 537.4h.01M423.5 569.1h.01M510.4 545.5h.01M518.3 548.6h.01M519.0 543.0h.01M439.4 566.4h.01M504.4 553.0h.01M518.1 554.8h.01M460.6 569.0h.01M470.3 570.0h.01M460.1 582.8h.01M469.6 590.6h.01M516.1 550.5h.01M493.0 552.4h.01M473.4 569.5h.01M521.3 554.4h.01M510.9 562.8h.01M509.9 536.9h.01M487.0 585.7h.01M485.3 559.2h.01M451.5 583.3h.01M470.0 579.9h.01M492.2 584.7h.01M516.5 537.7h.01M509.5 526.6h.01M492.2 571.8h.01M510.7 570.3h.01M478.8 567.0h.01M430.5 580.7h.01M438.7 575.4h.01M500.5 563.6h.01M427.8 563.2h.01M485.0 570.7h.01M497.4 570.3h.01M453.2 591.4h.01M493.8 555.9h.01M499.1 574.0h.01M464.1 576.7h.01M437.1 532.8h.01M474.2 576.6h.01M425.2 573.6h.01M509.1 555.9h.01M511.7 540.2h.01M433.5 536.0h.01M450.1 593.7h.01M514.7 563.8h.01M494.8 579.0h.01M500.0 572.0h.01M513.8 568.1h.01M435.5 583.8h.01M432.9 533.4h.01M420.6 560.5h.01M462.5 595.4h.01M444.4 574.1h.01M433.0 560.9h.01M465.4 560.0h.01M479.8 570.8h.01M470.8 567.7h.01M475.7 574.3h.01M504.1 560.2h.01M521.4 549.6h.01M429.5 547.6h.01M503.5 568.6h.01M504.7 571.8h.01M440.3 560.2h.01M426.6 565.5h.01M448.5 577.8h.01M420.6 548.6h.01M456.7 569.8h.01M450.9 567.6h.01M451.9 595.1h.01M435.6 589.9h.01M483.0 565.0h.01M438.9 562.4h.01M471.4 573.9h.01M478.8 586.2h.01M443.7 576.1h.01M488.9 553.3h.01M462.7 592.9h.01M437.8 593.7h.01M490.7 566.2h.01M517.6 552.8h.01M462.4 578.7h.01M500.1 551.7h.01M509.7 572.6h.01M422.6 558.2h.01M464.3 562.8h.01M514.7 553.2h.01M507.4 553.5h.01M455.4 573.9h.01M424.8 542.2h.01M420.9 554.3h.01M508.4 565.7h.01M497.0 585.6h.01M472.5 571.2h.01M489.2 587.1h.01M490.1 559.4h.01M430.5 557.5h.01M480.5 556.7h.01M504.0 527.7h.01M483.7 588.3h.01M475.3 590.3h.01M426.8 578.8h.01M475.8 559.4h.01M516.9 545.5h.01M490.4 581.9h.01M457.3 561.1h.01M456.9 565.6h.01M435.3 540.6h.01M459.9 593.8h.01M490.2 575.2h.01M453.4 582.5h.01M500.6 544.7h.01M428.4 575.3h.01M512.6 535.4h.01M501.5 566.6h.01M473.7 581.4h.01M517.6 541.1h.01M444.0 585.2h.01M431.5 572.5h.01M508.4 575.6h.01M475.3 566.6h.01M466.6 588.1h.01M510.9 547.8h.01M492.4 557.4h.01M460.3 590.2h.01M435.2 564.2h.01M441.6 564.4h.01M433.7 579.8h.01M481.6 584.4h.01M458.6 588.9h.01M505.3 564.8h.01M513.2 551.9h.01M477.1 592.9h.01M493.2 582.3h.01M465.6 566.8h.01M491.0 551.8h.01M505.8 539.5h.01M495.2 563.1h.01M446.3 585.9h.01M509.0 523.4h.01M428.9 560.3h.01M505.0 550.2h.01M473.4 565.8h.01M505.6 574.4h.01M490.1 572.7h.01M443.1 535.8h.01M456.8 533.0h.01M462.7 536.7h.01M443.1 552.2h.01M453.2 552.8h.01M469.3 550.4h.01M667.1 702.0h.01M668.1 690.1h.01M673.1 715.0h.01M674.3 724.1h.01M669.9 712.0h.01M679.5 730.5h.01M677.3 722.4h.01M673.4 727.4h.01M667.3 699.0h.01M674.7 709.4h.01M672.1 706.1h.01M677.0 713.4h.01M673.2 719.3h.01M671.8 701.6h.01M674.6 704.9h.01M678.1 719.4h.01M679.9 726.9h.01M674.9 730.7h.01M671.3 716.6h.01M667.0 694.7h.01M669.3 700.8h.01M676.2 707.5h.01M665.6 690.7h.01M634.5 665.0h.01M631.0 677.1h.01M638.2 694.2h.01M653.2 688.5h.01M622.1 701.1h.01M619.7 688.9h.01M624.0 662.1h.01M634.7 671.1h.01M592.9 676.1h.01M608.9 703.8h.01M629.1 699.2h.01M603.4 651.8h.01M641.0 677.1h.01M636.9 665.6h.01M645.9 704.2h.01M648.4 693.2h.01M652.5 679.2h.01M613.1 701.5h.01M598.2 670.8h.01M643.6 656.9h.01M649.2 669.4h.01M639.3 700.5h.01M614.0 695.8h.01M608.8 659.0h.01M656.0 700.5h.01M644.2 694.0h.01M608.0 647.3h.01M605.9 689.2h.01M633.3 699.8h.01M635.3 675.8h.01M604.2 670.4h.01M654.8 683.6h.01M626.3 657.6h.01M598.0 681.5h.01M617.8 695.2h.01M628.3 659.5h.01M656.5 696.7h.01M640.3 689.5h.01M622.5 684.1h.01M640.1 696.3h.01M628.6 653.7h.01M623.4 698.6h.01M624.0 671.0h.01M648.9 689.8h.01M648.9 677.3h.01M648.7 660.2h.01M659.2 695.3h.01M643.3 684.4h.01M655.5 692.7h.01M634.3 679.7h.01M601.9 696.1h.01M644.5 677.9h.01M647.8 662.3h.01M640.8 674.2h.01M636.9 691.4h.01M597.9 661.2h.01M646.9 675.5h.01M608.4 642.8h.01M633.7 682.3h.01M608.9 655.6h.01M613.1 658.3h.01M620.0 650.7h.01M606.3 693.2h.01M639.0 703.2h.01M619.7 668.4h.01M646.4 686.4h.01M638.3 671.0h.01M626.1 689.1h.01M644.5 690.6h.01M614.5 684.6h.01M622.0 674.4h.01M598.2 688.6h.01M655.6 688.3h.01M645.3 672.7h.01M605.8 644.7h.01M641.8 668.3h.01M601.4 644.8h.01M609.7 663.5h.01M597.1 668.8h.01M601.7 647.8h.01M626.0 649.2h.01M636.1 669.3h.01M604.6 703.4h.01M620.1 670.9h.01M655.7 680.4h.01M658.4 689.4h.01M646.7 679.2h.01M642.8 675.5h.01M632.2 694.0h.01M631.6 668.2h.01M639.8 683.5h.01M632.8 672.6h.01M634.5 684.4h.01M641.6 666.3h.01M637.1 658.5h.01M602.8 677.0h.01M659.8 697.5h.01M607.6 664.0h.01M596.5 649.6h.01M631.9 689.7h.01M648.2 680.7h.01M640.9 685.9h.01M640.4 670.7h.01M638.9 662.2h.01M612.1 645.2h.01M615.5 646.6h.01M651.8 672.3h.01M619.3 700.1h.01M651.2 663.0h.01M620.7 693.0h.01M600.7 685.7h.01M658.0 692.3h.01M662.0 696.9h.01M605.7 647.1h.01M636.6 683.0h.01M605.8 686.6h.01M597.7 675.8h.01M617.8 679.7h.01M650.9 697.6h.01M626.6 663.7h.01M613.3 687.3h.01M608.9 680.0h.01M611.8 668.9h.01M637.8 676.1h.01M633.4 674.8h.01M609.5 698.8h.01M601.3 690.2h.01M661.3 688.0h.01M634.4 698.0h.01M644.1 662.2h.01M615.6 649.6h.01M606.7 695.5h.01M625.8 682.2h.01M625.1 704.0h.01M627.3 686.0h.01M615.1 688.8h.01M624.5 693.7h.01M623.6 655.6h.01M605.7 671.9h.01M645.3 688.5h.01M594.8 680.8h.01M637.1 701.0h.01M643.8 666.3h.01M653.1 694.2h.01M614.0 667.7h.01M636.8 688.2h.01M633.2 669.4h.01M624.6 659.3h.01M663.5 695.0h.01M612.4 653.0h.01M620.6 706.0h.01M627.2 668.1h.01M635.1 659.1h.01M599.1 698.1h.01M622.4 665.6h.01M608.5 685.8h.01M628.4 704.8h.01M608.4 690.8h.01M599.5 656.1h.01M598.9 648.2h.01M646.0 656.2h.01M610.6 683.9h.01M664.4 688.9h.01M624.0 677.8h.01M616.5 687.4h.01M638.1 680.0h.01M662.7 690.0h.01M631.4 659.6h.01M600.0 675.0h.01M642.9 672.6h.01M631.1 702.7h.01M630.6 682.3h.01M619.6 652.9h.01M615.0 704.6h.01M650.8 685.3h.01M650.0 681.8h.01M637.8 673.2h.01M624.4 651.4h.01M645.4 670.1h.01M613.4 698.8h.01M621.6 656.1h.01M632.1 679.6h.01M623.6 686.6h.01M625.7 654.8h.01M660.7 693.5h.01M629.6 663.3h.01M635.7 662.4h.01M619.1 702.1h.01M605.0 701.1h.01M610.7 642.7h.01M635.5 694.7h.01M597.1 657.3h.01M642.0 680.7h.01M597.7 693.1h.01M619.6 673.9h.01M658.0 708.0h.01M662.0 713.0h.01M660.0 714.0h.01M657.0 704.0h.01M599.0 715.4h.01M595.0 722.0h.01M594.0 724.4h.01M590.4 730.0h.01M588.0 735.6h.01M585.0 740.0h.01M556.1 765.2h.01M570.7 767.1h.01M567.5 783.1h.01M573.1 776.7h.01M564.7 778.5h.01M571.5 780.4h.01M567.3 771.1h.01M556.2 777.5h.01M552.9 776.0h.01M563.4 783.4h.01M544.6 769.5h.01M551.2 771.3h.01M549.4 762.9h.01M561.2 763.9h.01M556.4 771.7h.01M563.5 775.5h.01M551.4 779.6h.01M568.5 776.7h.01M546.2 765.6h.01M562.9 769.3h.01M547.0 772.1h.01M546.7 777.4h.01M558.5 781.7h.01M558.8 768.0h.01M576.8 773.7h.01M552.8 767.3h.01M553.1 762.7h.01M576.8 780.6h.01M568.5 764.6h.01M578.2 776.9h.01M566.0 768.3h.01M549.6 767.7h.01M575.4 768.9h.01M561.5 778.0h.01M573.8 772.2h.01M560.6 773.4h.01M549.1 774.8h.01M570.5 771.0h.01M564.1 765.7h.01M543.9 772.5h.01M579.5 772.4h.01M541.0 774.4h.01M555.3 780.6h.01M571.3 774.3h.01M557.1 762.4h.01M564.0 772.3h.01M549.6 777.2h.01M566.7 774.9h.01M567.4 779.9h.01M557.9 775.4h.01M558.9 770.5h.01M575.7 777.8h.01M554.4 790.0h.01M554.0 796.0h.01M610.6 782.4h.01M720.7 718.0h.01M730.3 721.7h.01M734.2 717.0h.01M741.3 718.3h.01M750.0 716.0h.01M745.3 784.5h.01M750.8 792.0h.01M749.5 794.2h.01M748.0 795.8h.01M806.7 776.7h.01M805.5 784.7h.01M806.7 790.8h.01M720.8 820.0h.01M722.3 855.6h.01M718.5 855.5h.01M722.5 844.2h.01M696.8 855.4h.01M731.7 845.6h.01M729.7 849.3h.01M727.6 853.0h.01M714.8 848.4h.01M742.0 840.6h.01M694.3 852.1h.01M698.1 852.8h.01M700.1 849.9h.01M740.1 854.7h.01M707.6 853.8h.01M714.8 857.1h.01M728.6 842.2h.01M716.7 862.0h.01M735.1 844.6h.01M720.0 847.0h.01M702.0 847.5h.01M706.0 850.1h.01M738.9 851.4h.01M738.9 845.8h.01M743.8 842.8h.01M719.9 852.8h.01M713.8 861.6h.01M692.9 854.3h.01M704.7 859.6h.01M708.2 861.8h.01M735.0 852.6h.01M692.9 847.4h.01M728.2 845.7h.01M707.7 845.7h.01M699.5 856.7h.01M732.8 841.0h.01M739.8 848.3h.01M743.0 849.7h.01M693.0 849.7h.01M720.4 850.3h.01M735.1 849.2h.01M721.2 858.3h.01M704.2 829.8h.01M708.6 834.4h.01M711.0 839.4h.01M609.6 846.0h.01M613.0 853.0h.01M614.0 859.0h.01M615.0 862.4h.01M618.4 870.4h.01M620.6 875.6h.01M625.0 884.0h.01M626.4 887.0h.01M629.4 903.0h.01M637.0 904.0h.01M635.6 908.0h.01M640.0 912.0h.01M635.0 916.0h.01M634.0 920.0h.01M631.0 922.4h.01M626.0 926.0h.01M637.0 910.0h.01M693.2 930.0h.01M705.0 934.6h.01M713.0 934.0h.01M716.0 935.0h.01M718.0 937.0h.01M720.0 938.0h.01M725.0 937.0h.01M728.0 940.0h.01M723.0 943.0h.01M726.0 941.0h.01M721.0 941.0h.01M717.0 948.0h.01M716.0 950.0h.01M713.6 952.0h.01M712.0 938.0h.01M660.0 984.4h.01M355.3 735.8h.01M328.5 835.8h.01M332.3 803.2h.01M376.3 742.4h.01M362.7 722.5h.01M342.1 735.2h.01M319.7 815.9h.01M358.8 736.2h.01M316.2 789.6h.01M341.7 842.2h.01M334.0 758.9h.01M378.5 765.3h.01M319.2 774.5h.01M343.1 777.4h.01M360.0 723.1h.01M312.2 827.5h.01M372.5 799.0h.01M381.0 844.7h.01M330.5 797.8h.01M367.8 786.0h.01M333.0 780.6h.01M361.6 746.7h.01M378.0 743.8h.01M402.4 813.3h.01M348.0 759.4h.01M378.6 812.7h.01M308.0 803.9h.01M357.7 805.6h.01M355.7 726.3h.01M326.7 777.4h.01M342.2 789.6h.01M374.2 744.3h.01M325.0 760.5h.01M366.7 765.6h.01M377.9 830.2h.01M373.2 794.7h.01M325.8 775.7h.01M341.2 742.6h.01M365.0 742.6h.01M343.5 768.2h.01M363.0 765.5h.01M333.1 755.0h.01M325.1 732.3h.01M358.5 847.2h.01M365.8 795.1h.01M346.3 787.9h.01M371.8 725.7h.01M379.2 732.7h.01M367.4 782.3h.01M384.5 822.2h.01M367.1 836.3h.01M345.6 723.9h.01M379.3 818.5h.01M333.6 855.7h.01M374.1 759.2h.01M304.0 831.5h.01M328.8 846.8h.01M357.5 746.9h.01M326.9 834.3h.01M351.0 838.1h.01M328.0 838.5h.01M364.5 841.7h.01M361.3 778.9h.01M392.8 803.0h.01M378.6 825.0h.01M350.3 722.9h.01M318.4 786.7h.01M387.1 791.4h.01M315.4 855.7h.01M402.4 845.7h.01M347.5 785.6h.01M399.1 785.1h.01M362.4 768.3h.01M322.2 779.8h.01M394.8 766.0h.01M333.8 815.1h.01M369.0 783.7h.01M405.3 803.1h.01M351.5 853.4h.01M327.5 733.1h.01M318.4 828.7h.01M312.6 830.4h.01M394.7 773.7h.01M336.9 813.9h.01M382.0 790.2h.01M338.3 834.8h.01M328.4 819.1h.01M371.8 783.5h.01M360.3 828.7h.01M347.0 849.7h.01M329.0 840.1h.01M379.8 779.4h.01M372.0 760.5h.01M335.4 855.0h.01M388.0 841.2h.01M367.6 747.8h.01M372.5 835.3h.01M355.8 809.2h.01M371.0 811.9h.01M310.7 839.5h.01M380.9 823.3h.01M379.2 809.5h.01M323.1 745.5h.01M332.3 820.4h.01M349.1 796.4h.01M374.9 808.0h.01M388.3 783.0h.01M394.9 809.3h.01M384.0 801.2h.01M343.3 723.8h.01M308.1 790.8h.01M364.6 779.4h.01M360.4 792.3h.01M310.5 858.9h.01M320.8 844.3h.01M346.8 840.9h.01M383.4 757.3h.01M344.2 825.9h.01M326.8 816.5h.01M365.3 768.8h.01M362.2 793.5h.01M322.6 754.7h.01M358.6 765.6h.01M373.3 825.7h.01M300.1 814.9h.01M332.6 849.9h.01M314.8 860.8h.01M363.5 855.3h.01M340.0 812.0h.01M394.3 771.4h.01M336.3 806.7h.01M357.2 780.4h.01M362.5 776.7h.01M359.7 858.8h.01M332.5 834.5h.01M385.3 832.8h.01M364.7 845.2h.01M320.2 821.7h.01M317.9 779.6h.01M381.5 828.5h.01M367.4 855.6h.01M324.4 838.0h.01M316.4 774.7h.01M358.7 813.6h.01M390.4 764.5h.01M366.3 809.9h.01M398.2 782.1h.01M299.9 839.9h.01M372.0 857.0h.01M374.0 796.6h.01M318.5 772.3h.01M331.1 865.5h.01M351.5 844.9h.01M405.6 809.8h.01M350.1 808.3h.01M370.9 795.3h.01M368.7 859.2h.01M291.0 819.2h.01M350.2 718.8h.01M347.7 823.0h.01M289.3 829.5h.01M392.3 795.0h.01M350.3 766.9h.01M369.8 751.8h.01M360.0 728.8h.01M352.4 759.7h.01M373.2 813.6h.01M368.3 737.8h.01M365.0 762.3h.01M355.2 859.7h.01M298.5 825.3h.01M329.7 793.4h.01M302.5 828.2h.01M356.5 743.4h.01M343.5 780.7h.01M327.6 856.8h.01M403.4 831.5h.01M396.9 800.6h.01M313.4 791.6h.01M350.6 754.7h.01M324.7 743.0h.01M406.6 822.7h.01M376.9 832.9h.01M306.0 833.1h.01M326.5 865.6h.01M308.3 826.2h.01M354.3 751.5h.01M324.9 842.8h.01M398.9 801.3h.01M334.3 786.4h.01M339.2 759.1h.01M325.4 730.0h.01M338.7 808.0h.01M330.1 753.2h.01M337.8 840.6h.01M358.4 797.7h.01M363.1 809.2h.01M370.1 729.3h.01M363.0 784.1h.01M333.3 862.9h.01M402.2 806.4h.01M316.0 806.9h.01M350.4 729.2h.01M370.1 827.3h.01M383.8 761.2h.01M327.7 793.4h.01M308.7 820.5h.01M363.6 832.3h.01M333.8 841.0h.01M365.8 756.6h.01M364.4 852.2h.01M333.3 752.3h.01M361.5 797.3h.01M408.2 798.6h.01M390.3 761.2h.01M334.5 795.0h.01M405.3 786.9h.01M405.8 791.4h.01M335.2 817.3h.01M338.7 847.0h.01M324.1 814.4h.01M316.0 797.5h.01M344.7 726.7h.01M313.3 785.9h.01M324.7 807.4h.01M361.8 834.7h.01M373.1 837.1h.01M290.1 832.2h.01M384.6 780.6h.01M295.1 839.1h.01M338.3 832.9h.01M379.6 784.4h.01M340.5 858.4h.01M318.2 769.6h.01M382.4 783.2h.01M383.8 771.8h.01M332.7 799.6h.01M340.9 816.5h.01M385.5 778.8h.01M327.3 787.9h.01M361.0 860.7h.01M299.3 852.4h.01M355.8 844.1h.01M366.1 850.2h.01M349.8 786.1h.01M370.4 844.7h.01M402.7 818.3h.01M336.6 863.7h.01M335.9 751.6h.01M338.0 778.5h.01M317.7 832.2h.01M334.4 743.6h.01M361.2 817.5h.01M352.3 723.7h.01M376.1 851.2h.01M311.6 819.4h.01M367.4 768.4h.01M304.5 842.2h.01M297.1 831.4h.01M338.6 757.3h.01M326.1 773.1h.01M351.3 772.7h.01M339.8 724.9h.01M325.8 850.7h.01M378.9 828.1h.01M312.1 835.1h.01M399.3 807.8h.01M337.1 828.9h.01M292.5 836.4h.01M399.9 838.2h.01M362.7 754.3h.01M398.1 798.9h.01M358.7 720.3h.01M320.4 807.2h.01M378.6 792.5h.01M315.2 858.2h.01M367.4 853.2h.01M310.8 817.0h.01M351.8 836.4h.01M365.3 790.2h.01M314.7 831.7h.01M333.7 848.5h.01M389.7 838.0h.01M338.2 781.6h.01M342.6 748.2h.01M367.3 762.8h.01M293.5 840.9h.01M311.5 847.3h.01M367.4 778.9h.01M310.9 849.0h.01M393.7 814.1h.01M343.4 807.3h.01M362.3 756.3h.01M356.2 846.8h.01M370.6 768.9h.01M341.2 738.1h.01M335.3 746.4h.01M317.3 851.4h.01M335.5 768.3h.01M398.9 790.7h.01M373.6 790.8h.01M324.9 790.3h.01M372.6 731.1h.01M401.6 804.0h.01M395.7 822.8h.01M356.6 853.4h.01M354.8 760.6h.01M336.3 740.2h.01M385.5 843.6h.01M310.8 806.5h.01M358.2 759.6h.01M366.5 734.9h.01M323.7 748.1h.01M367.0 749.9h.01M349.3 774.5h.01M295.8 817.9h.01M354.7 858.0h.01M388.8 829.0h.01M382.9 811.1h.01M326.1 863.6h.01M326.0 753.5h.01M316.2 835.6h.01M351.5 811.3h.01M384.1 813.3h.01M325.0 767.1h.01M352.7 823.0h.01M371.9 789.7h.01M329.4 805.4h.01M370.5 808.0h.01M306.0 852.1h.01M347.1 831.3h.01M327.5 743.7h.01M320.1 865.1h.01M314.1 833.7h.01M375.0 805.1h.01M311.1 803.6h.01M332.1 809.7h.01M294.5 825.2h.01M334.9 724.7h.01M323.4 804.5h.01M338.1 745.2h.01M398.7 823.4h.01M367.4 789.9h.01M352.6 842.1h.01M339.3 783.7h.01M368.2 822.7h.01M339.6 748.0h.01M325.1 854.1h.01M347.7 732.7h.01M320.7 785.5h.01M395.4 832.7h.01M380.6 740.4h.01M304.6 838.7h.01M389.6 808.8h.01M330.3 788.8h.01M374.3 746.4h.01M313.3 778.9h.01M401.8 779.7h.01M354.1 774.4h.01M383.5 764.2h.01M352.1 780.6h.01M420.3 812.2h.01M410.2 799.3h.01M444.2 837.2h.01M434.5 826.1h.01M430.0 822.0h.01M398.3 794.0h.01M429.4 825.0h.01M438.7 829.8h.01M427.1 817.6h.01M413.3 813.7h.01M446.1 841.6h.01M404.5 790.0h.01M417.1 807.1h.01M449.1 836.1h.01M410.4 804.4h.01M408.7 807.6h.01M442.2 830.3h.01M448.6 842.0h.01M441.4 836.0h.01M419.5 808.4h.01M402.1 790.3h.01M436.2 830.3h.01M406.8 805.8h.01M438.3 836.3h.01M440.4 838.5h.01M417.5 810.7h.01M431.6 829.0h.01M419.4 819.1h.01M402.8 801.0h.01M418.9 816.2h.01M406.0 792.6h.01M433.4 833.5h.01M422.2 817.9h.01M406.6 797.0h.01M445.9 833.9h.01M430.0 819.5h.01M401.2 797.9h.01M406.0 848.4h.01M403.6 852.0h.01M369.4 860.0h.01M314.4 865.6h.01M510.0 875.0h.01M493.2 883.0h.01M509.7 870.9h.01M507.1 881.9h.01M486.2 876.5h.01M489.6 869.6h.01M492.9 866.3h.01M512.4 879.2h.01M505.5 877.4h.01M514.3 875.7h.01M496.5 881.7h.01M493.6 872.0h.01M491.5 877.2h.01M503.2 869.2h.01M497.3 889.4h.01M490.6 874.1h.01M495.0 877.8h.01M486.2 880.0h.01M500.5 880.8h.01M486.9 873.3h.01M502.6 878.6h.01M498.6 875.5h.01M500.2 867.1h.01M514.9 881.5h.01M502.3 884.6h.01M482.3 876.4h.01M496.9 892.9h.01M468.6 849.2h.01M474.8 865.0h.01M461.9 851.4h.01M460.9 859.6h.01M474.2 851.4h.01M460.8 854.6h.01M451.4 842.3h.01M441.6 834.7h.01M434.4 835.8h.01M469.7 860.1h.01M471.9 855.2h.01M443.9 840.1h.01M481.6 857.9h.01M472.4 860.9h.01M477.5 863.1h.01M466.4 862.0h.01M447.2 844.2h.01M464.5 851.2h.01M445.6 837.8h.01M454.4 840.9h.01M465.2 856.7h.01M478.5 850.1h.01M479.9 862.4h.01M476.8 867.2h.01M475.7 848.1h.01M459.0 840.7h.01M457.4 849.3h.01M479.0 873.0h.01M456.2 843.2h.01M439.0 834.5h.01M454.6 855.4h.01M439.3 839.2h.01M468.3 867.0h.01M469.7 845.5h.01M457.1 854.4h.01M459.1 847.4h.01M459.6 843.9h.01M469.5 855.7h.01M476.0 858.1h.01M463.4 861.5h.01M469.8 851.6h.01M442.9 837.1h.01M473.2 848.3h.01M434.7 838.9h.01M448.5 841.5h.01M475.6 871.5h.01M453.6 850.8h.01M455.0 845.6h.01M470.3 865.1h.01M467.2 859.2h.01M465.6 846.4h.01M472.1 845.9h.01M458.8 856.4h.01M478.1 870.3h.01M467.7 844.0h.01M479.2 867.9h.01M472.3 868.0h.01M467.9 864.4h.01M461.4 845.7h.01M462.7 848.7h.01M404.0 851.0h.01M406.0 848.4h.01M503.0 904.0h.01M504.0 911.0h.01M510.8 933.0h.01M525.0 909.8h.01M519.6 974.0h.01M519.6 977.0h.01M520.0 987.0h.01M523.0 988.0h.01M524.0 992.0h.01M524.4 995.0h.01M531.4 989.6h.01M531.0 996.0h.01M534.4 1000.4h.01M532.0 999.0h.01M515.0 1012.0h.01M517.0 1019.0h.01M524.0 1008.0h.01M526.0 1006.0h.01M520.0 1011.0h.01M518.0 1016.0h.01M522.0 1018.0h.01M528.0 1015.0h.01M530.0 1008.0h.01M436.0 1046.0h.01" stroke="#D3D3D3"/><path d="M662.0 148.8h.01M673.0 145.0h.01M687.7 138.3h.01M704.2 195.0h.01M730.8 173.3h.01M709.1 117.2h.01M709.5 140.8h.01M668.6 125.7h.01M739.4 138.0h.01M662.5 160.7h.01M729.7 172.1h.01M691.2 151.7h.01M740.6 148.8h.01M679.1 149.4h.01M677.4 124.9h.01M725.7 128.7h.01M740.6 167.8h.01M708.0 164.3h.01M695.0 130.3h.01M721.2 183.6h.01M704.6 170.9h.01M672.5 139.3h.01M731.3 128.2h.01M726.5 168.8h.01M661.4 133.3h.01M721.7 159.2h.01M709.9 151.9h.01M737.0 167.9h.01M702.3 118.2h.01M694.1 163.2h.01M734.6 172.4h.01M678.0 122.9h.01M691.7 143.8h.01M715.2 189.7h.01M709.3 138.3h.01M677.6 160.3h.01M677.4 117.9h.01M734.5 152.6h.01M731.1 170.9h.01M731.8 135.8h.01M691.4 119.4h.01M668.1 161.3h.01M709.2 161.8h.01M787.1 214.4h.01M821.8 214.3h.01M798.5 217.0h.01M750.4 196.8h.01M736.7 197.3h.01M765.0 202.9h.01M755.7 200.9h.01M747.0 198.4h.01M763.3 206.0h.01M669.0 233.6h.01M675.6 237.4h.01M664.0 242.0h.01M685.0 242.4h.01M624.0 239.8h.01M633.1 241.8h.01M792.0 281.6h.01M826.5 293.8h.01M834.4 280.0h.01M836.6 292.0h.01M823.0 292.4h.01M789.4 307.4h.01M797.0 312.0h.01M745.6 209.6h.01M758.4 215.6h.01M745.0 221.0h.01M777.0 209.6h.01M798.4 212.0h.01M811.6 225.0h.01M812.0 227.0h.01M756.4 237.2h.01M771.0 251.4h.01M757.0 255.0h.01M548.6 215.6h.01M553.0 224.0h.01M564.6 219.4h.01M566.0 223.6h.01M569.0 228.6h.01M580.6 232.0h.01M587.4 227.4h.01M595.6 228.6h.01M580.4 242.0h.01M574.4 244.4h.01M574.4 248.4h.01M542.0 246.0h.01M597.8 238.8h.01M610.6 236.0h.01M622.8 241.0h.01M629.0 243.2h.01M645.2 244.4h.01M542.4 316.6h.01M548.0 312.4h.01M493.0 346.0h.01M495.6 345.2h.01M489.0 359.0h.01M487.6 362.4h.01M520.6 427.4h.01M515.4 436.2h.01M512.2 445.8h.01M526.4 445.4h.01M393.0 386.0h.01M396.0 384.4h.01M390.0 393.0h.01M401.4 392.4h.01M410.6 390.6h.01M388.0 401.4h.01M379.6 406.0h.01M383.0 415.0h.01M394.0 423.0h.01M388.6 427.4h.01M402.4 433.4h.01M407.6 435.0h.01M412.4 434.4h.01M394.4 388.0h.01M389.6 395.0h.01M408.6 400.4h.01M412.0 409.6h.01M419.4 416.0h.01M422.4 435.0h.01M443.0 408.4h.01M465.0 453.0h.01M475.0 465.4h.01M477.0 465.4h.01M464.0 469.6h.01M465.4 471.6h.01M485.0 462.6h.01M488.0 458.2h.01M562.6 481.8h.01M568.0 489.6h.01M562.4 494.0h.01M555.0 502.0h.01M566.0 499.6h.01M583.4 541.4h.01M591.0 547.4h.01M585.9 412.8h.01M623.9 443.6h.01M605.9 399.0h.01M590.2 391.5h.01M617.3 446.8h.01M610.0 410.1h.01M590.0 435.8h.01M616.2 439.0h.01M594.9 395.2h.01M608.0 386.4h.01M633.9 421.8h.01M617.4 452.9h.01M573.7 443.1h.01M631.2 450.5h.01M652.4 436.0h.01M614.4 455.7h.01M583.3 467.2h.01M592.4 384.0h.01M589.4 398.0h.01M600.7 439.4h.01M600.3 419.8h.01M636.4 440.8h.01M636.3 454.8h.01M659.5 432.4h.01M616.2 429.7h.01M619.7 407.9h.01M651.7 458.0h.01M592.2 436.1h.01M706.0 477.8h.01M696.6 468.5h.01M720.8 452.6h.01M672.6 458.1h.01M667.1 455.5h.01M679.1 435.4h.01M700.1 464.8h.01M708.0 472.7h.01M686.3 459.7h.01M712.4 456.8h.01M710.9 437.1h.01M706.6 447.7h.01M686.9 428.8h.01M657.0 453.2h.01M675.5 442.6h.01M690.0 435.3h.01M594.0 384.0h.01M599.0 384.4h.01M608.0 385.6h.01M615.6 388.6h.01M591.0 388.6h.01M609.6 391.0h.01M583.6 396.6h.01M589.0 395.6h.01M593.6 397.0h.01M597.0 398.0h.01M595.0 400.0h.01M598.0 403.0h.01M603.6 395.6h.01M609.0 402.0h.01M612.0 401.0h.01M616.0 407.0h.01M620.0 408.0h.01M609.0 408.0h.01M627.0 412.0h.01M635.6 413.0h.01M606.0 416.4h.01M615.0 422.4h.01M597.6 422.6h.01M611.0 406.4h.01M614.4 405.6h.01M592.4 394.4h.01M759.6 565.4h.01M898.8 565.8h.01M759.5 565.8h.01M936.0 772.6h.01M936.1 763.7h.01M1017.6 749.4h.01M1017.2 646.5h.01M1042.2 708.7h.01M917.7 743.8h.01M956.1 724.2h.01M1035.2 756.0h.01M1009.8 752.0h.01M1035.0 701.6h.01M916.5 753.6h.01M990.3 699.8h.01M1029.5 678.9h.01M952.1 671.3h.01M1040.4 748.8h.01M1044.8 676.4h.01M1027.5 638.9h.01M968.3 679.8h.01M1037.4 696.5h.01M961.3 669.3h.01M931.2 721.2h.01M1019.8 657.6h.01M989.7 710.7h.01M943.3 714.7h.01M919.2 734.3h.01M946.4 741.2h.01M950.4 696.1h.01M971.2 694.0h.01M904.4 712.0h.01M1009.8 661.5h.01M1011.0 754.4h.01M992.9 654.1h.01M955.9 730.9h.01M1014.1 677.3h.01M973.9 779.0h.01M929.0 718.0h.01M896.5 721.1h.01M980.0 653.8h.01M982.3 686.3h.01M912.5 726.8h.01M1000.7 650.2h.01M913.5 786.1h.01M1009.6 741.7h.01M1016.5 690.3h.01M982.1 656.6h.01M966.3 776.7h.01M927.9 724.8h.01M1030.1 709.2h.01M937.0 731.4h.01M1006.8 762.7h.01M985.1 778.6h.01M1031.6 679.1h.01M953.7 675.4h.01M1044.3 726.4h.01M1025.7 675.4h.01M946.5 746.3h.01M1001.5 667.3h.01M1010.9 645.1h.01M1014.0 754.6h.01M1026.9 753.3h.01M909.9 717.0h.01M995.4 749.9h.01M929.5 784.3h.01M904.4 716.5h.01M1033.8 740.8h.01M994.7 770.6h.01M982.8 758.4h.01M994.7 704.3h.01M932.6 736.8h.01M928.0 731.5h.01M991.1 655.7h.01M935.1 736.2h.01M943.4 777.9h.01M985.1 661.5h.01M986.5 772.6h.01M949.9 767.6h.01M1041.8 726.5h.01M973.9 738.4h.01M927.0 708.3h.01M933.8 734.8h.01M1037.8 647.5h.01M933.0 705.9h.01M1030.2 731.1h.01M925.4 742.2h.01M1005.0 642.0h.01M985.5 702.2h.01M923.4 773.2h.01M919.8 731.9h.01M935.6 674.8h.01M1018.3 735.9h.01M1026.6 739.3h.01M944.7 718.5h.01M914.5 723.8h.01M955.4 720.6h.01M968.4 778.1h.01M976.5 702.5h.01M1007.2 649.8h.01M985.7 734.8h.01M951.0 731.5h.01M1042.7 701.1h.01M964.8 702.7h.01M1001.8 672.3h.01M956.2 657.6h.01M1032.5 708.9h.01M1038.7 718.3h.01M932.1 777.5h.01M1048.4 681.4h.01M916.1 722.9h.01M917.6 747.6h.01M1029.6 726.5h.01M975.4 780.5h.01M902.9 727.8h.01M992.1 664.0h.01M1016.1 718.4h.01M937.7 724.8h.01M943.1 734.8h.01M1029.7 761.3h.01M938.5 712.5h.01M1039.8 743.4h.01M924.7 744.9h.01M1018.5 773.1h.01M975.0 765.8h.01M979.4 693.8h.01M944.6 752.3h.01M1003.9 676.3h.01M912.5 759.2h.01M919.0 774.7h.01M1012.2 774.0h.01M1029.6 759.4h.01M1013.6 681.0h.01M963.9 753.0h.01M916.8 776.0h.01M996.9 703.3h.01M1041.4 735.3h.01M993.9 681.0h.01M974.2 637.8h.01M1051.9 650.9h.01M1050.9 679.2h.01M1059.8 665.0h.01M1047.3 706.1h.01M1038.1 643.9h.01M1063.1 664.7h.01M1049.3 650.8h.01M1067.6 662.7h.01M191.8 521.4h.01M213.1 512.4h.01M154.7 551.9h.01M163.2 522.6h.01M189.9 519.7h.01M167.7 546.7h.01M182.9 523.0h.01M174.6 539.0h.01M158.5 560.1h.01M177.1 515.3h.01M203.1 558.9h.01M185.9 540.4h.01M150.5 555.3h.01M203.4 527.9h.01M173.9 512.2h.01M163.6 537.2h.01M214.6 504.7h.01M218.9 540.3h.01M173.7 569.0h.01M184.4 543.1h.01M161.5 565.1h.01M153.3 546.8h.01M170.2 565.2h.01M166.3 527.8h.01M178.7 562.3h.01M182.5 553.9h.01M175.9 526.9h.01M174.3 521.8h.01M152.6 552.8h.01M198.3 551.5h.01M167.6 558.4h.01M173.9 533.1h.01M192.9 511.9h.01M173.7 560.7h.01M178.8 512.5h.01M173.3 535.0h.01M179.8 555.0h.01M209.6 519.2h.01M189.8 533.2h.01M199.7 522.6h.01M171.6 556.4h.01M204.0 534.2h.01M161.8 553.8h.01M202.7 546.7h.01M196.3 519.3h.01M201.3 531.7h.01M160.5 526.9h.01M180.9 552.6h.01M162.2 524.7h.01M205.5 531.5h.01M229.1 572.2h.01M235.9 569.2h.01M242.7 575.5h.01M246.8 573.7h.01M221.2 543.0h.01M227.6 552.0h.01M207.8 558.5h.01M513.8 549.1h.01M437.8 564.4h.01M498.9 582.8h.01M480.7 587.2h.01M448.0 595.1h.01M478.3 556.6h.01M453.6 578.2h.01M448.9 590.6h.01M498.7 575.9h.01M492.5 580.1h.01M473.9 561.3h.01M475.9 569.1h.01M448.0 592.8h.01M477.9 562.6h.01M484.9 583.1h.01M510.8 565.8h.01M502.5 550.1h.01M420.3 563.4h.01M455.8 593.8h.01M470.5 576.9h.01M432.9 577.7h.01M506.1 569.9h.01M510.0 534.6h.01M442.1 569.8h.01M427.4 550.9h.01M450.8 589.1h.01M424.5 546.7h.01M448.6 587.5h.01M468.5 575.2h.01M502.3 552.7h.01M463.7 586.4h.01M445.8 593.2h.01M504.7 579.3h.01M442.5 583.5h.01M454.1 539.4h.01M437.9 527.9h.01M436.1 533.9h.01M427.1 541.8h.01M429.3 540.0h.01M420.7 557.2h.01M435.4 555.0h.01M433.6 565.1h.01M670.5 708.6h.01M663.3 692.4h.01M668.6 707.0h.01M676.6 728.0h.01M671.0 698.1h.01M677.4 725.2h.01M672.5 711.2h.01M597.3 666.2h.01M647.0 665.5h.01M595.8 662.9h.01M604.5 653.5h.01M618.1 665.3h.01M597.5 695.2h.01M597.0 647.0h.01M642.3 698.1h.01M625.7 673.0h.01M646.2 658.7h.01M615.9 676.0h.01M650.9 701.2h.01M648.3 703.3h.01M617.2 692.8h.01M643.1 664.4h.01M616.6 706.4h.01M596.6 690.3h.01M616.0 700.7h.01M615.3 698.0h.01M615.2 663.5h.01M626.9 696.0h.01M614.6 652.7h.01M611.7 677.6h.01M621.2 687.3h.01M650.6 667.3h.01M607.5 682.3h.01M619.1 683.0h.01M641.4 663.2h.01M653.7 691.1h.01M612.6 683.7h.01M601.6 656.9h.01M607.3 667.5h.01M643.9 701.2h.01M642.5 695.2h.01M594.1 686.0h.01M623.0 669.1h.01M596.5 654.5h.01M634.5 689.5h.01M652.9 700.4h.01M600.1 667.6h.01M600.9 681.1h.01M594.7 665.6h.01M620.1 665.3h.01M607.8 649.7h.01M620.7 680.2h.01M611.2 657.3h.01M599.9 660.7h.01M618.0 650.0h.01M602.5 667.3h.01M643.8 704.0h.01M623.4 690.9h.01M618.0 704.1h.01M626.2 700.9h.01M621.4 695.6h.01M616.9 668.7h.01M619.5 691.3h.01M654.0 710.0h.01M648.4 705.0h.01M622.0 711.0h.01M598.0 712.4h.01M584.0 742.4h.01M581.0 747.4h.01M547.0 768.0h.01M549.0 766.0h.01M553.0 763.0h.01M556.0 778.0h.01M558.4 780.0h.01M563.0 784.0h.01M566.0 778.0h.01M552.0 794.0h.01M610.4 785.6h.01M726.7 720.0h.01M729.7 720.0h.01M732.0 719.7h.01M734.0 719.3h.01M737.0 715.7h.01M738.7 716.3h.01M808.3 778.7h.01M801.8 789.2h.01M807.2 794.2h.01M808.0 795.3h.01M741.1 844.1h.01M704.3 853.1h.01M704.4 845.9h.01M717.9 858.4h.01M730.9 854.6h.01M712.1 854.0h.01M709.4 857.9h.01M709.8 850.8h.01M724.7 843.4h.01M694.0 856.7h.01M734.2 855.9h.01M726.4 848.5h.01M701.9 853.2h.01M700.5 860.6h.01M711.4 860.1h.01M716.3 852.4h.01M716.4 847.0h.01M736.2 841.4h.01M710.8 845.9h.01M700.4 845.0h.01M728.9 857.6h.01M704.6 861.9h.01M727.5 860.2h.01M722.2 861.2h.01M730.0 851.9h.01M712.6 857.8h.01M730.2 860.2h.01M737.5 859.0h.01M708.0 848.3h.01M713.2 845.0h.01M743.4 845.7h.01M704.1 857.4h.01M739.0 857.3h.01M732.6 859.1h.01M712.3 850.9h.01M739.2 838.5h.01M622.4 878.4h.01M623.8 889.8h.01M633.0 895.0h.01M634.0 898.0h.01M639.0 916.2h.01M629.4 925.4h.01M611.6 846.0h.01M710.0 934.2h.01M719.0 942.0h.01M714.4 946.4h.01M656.0 981.0h.01M657.0 983.6h.01M658.0 982.4h.01M343.1 753.8h.01M363.2 859.6h.01M375.2 784.8h.01M341.9 850.9h.01M321.4 765.0h.01M370.3 743.9h.01M398.4 836.7h.01M348.0 807.3h.01M352.2 778.7h.01M337.6 843.5h.01M382.3 799.0h.01M361.1 720.2h.01M362.4 738.4h.01M324.6 861.9h.01M301.0 854.1h.01M351.4 738.4h.01M321.6 772.6h.01M298.8 821.6h.01M372.2 854.9h.01M406.0 827.4h.01M363.1 748.3h.01M371.2 801.2h.01M360.4 831.8h.01M331.0 814.0h.01M358.7 750.4h.01M300.2 824.1h.01M344.9 860.1h.01M398.1 815.5h.01M373.0 845.2h.01M388.9 793.2h.01M336.1 773.4h.01M352.4 795.7h.01M374.0 772.9h.01M373.9 776.3h.01M309.2 861.0h.01M329.1 765.9h.01M339.0 743.2h.01M343.7 750.4h.01M339.8 775.2h.01M375.4 734.0h.01M366.6 815.5h.01M340.5 773.0h.01M366.8 860.5h.01M314.7 823.1h.01M310.2 808.2h.01M297.1 838.7h.01M388.7 821.7h.01M336.1 770.2h.01M393.9 805.7h.01M330.1 801.8h.01M359.3 808.7h.01M309.6 823.0h.01M323.7 852.0h.01M389.7 799.7h.01M306.4 812.2h.01M378.3 768.6h.01M359.9 731.9h.01M369.7 790.0h.01M349.8 822.0h.01M334.6 821.9h.01M362.9 812.7h.01M381.7 806.8h.01M377.1 780.7h.01M403.6 798.8h.01M385.5 794.7h.01M407.1 835.8h.01M361.8 750.3h.01M348.7 756.6h.01M328.5 854.2h.01M343.1 810.9h.01M325.3 780.3h.01M404.5 793.6h.01M385.8 751.1h.01M348.1 853.0h.01M341.1 794.0h.01M381.3 778.4h.01M370.5 842.5h.01M365.8 784.9h.01M392.5 842.3h.01M361.1 760.2h.01M332.2 767.8h.01M339.9 790.0h.01M373.5 762.2h.01M322.8 829.9h.01M299.5 812.9h.01M297.0 840.8h.01M353.4 747.2h.01M325.4 741.1h.01M346.6 772.0h.01M374.9 748.1h.01M348.6 726.5h.01M326.4 748.9h.01M376.6 802.4h.01M337.8 852.4h.01M350.5 805.0h.01M382.6 835.0h.01M351.5 757.6h.01M322.6 792.5h.01M362.6 825.0h.01M389.6 839.9h.01M367.2 813.6h.01M327.7 756.3h.01M376.6 752.1h.01M348.6 741.0h.01M301.1 836.9h.01M350.7 799.6h.01M391.5 759.7h.01M384.8 787.3h.01M400.1 845.5h.01M369.9 777.8h.01M322.6 859.2h.01M339.8 810.2h.01M397.3 833.9h.01M353.2 742.9h.01M294.0 831.0h.01M381.2 811.6h.01M355.4 811.2h.01M321.9 787.4h.01M360.2 739.5h.01M402.3 802.1h.01M387.0 772.7h.01M319.2 849.0h.01M377.9 759.8h.01M329.8 837.1h.01M339.3 739.7h.01M331.9 844.1h.01M362.3 820.4h.01M322.1 809.9h.01M337.0 747.4h.01M384.8 817.1h.01M358.8 843.9h.01M396.9 791.8h.01M327.7 860.0h.01M322.5 862.6h.01M329.7 831.3h.01M386.1 810.0h.01M360.8 763.3h.01M341.8 729.8h.01M289.1 822.9h.01M341.2 819.8h.01M351.2 748.1h.01M369.5 850.1h.01M420.6 821.5h.01M416.0 814.2h.01M416.2 804.0h.01M436.8 833.6h.01M449.0 838.9h.01M400.5 795.6h.01M423.0 822.5h.01M424.5 814.6h.01M433.5 830.8h.01M488.9 883.2h.01M497.3 884.6h.01M505.5 872.6h.01M509.8 883.8h.01M503.8 881.7h.01M482.4 883.2h.01M496.5 869.5h.01M484.6 871.3h.01M507.1 885.9h.01M481.7 873.3h.01M447.1 847.1h.01M465.2 843.9h.01M480.8 865.0h.01M429.9 836.7h.01M478.5 854.7h.01M451.1 838.2h.01M482.0 860.7h.01M452.0 856.6h.01M508.0 917.0h.01M508.0 918.0h.01M509.0 923.4h.01M515.0 952.0h.01M518.0 969.0h.01M518.4 970.4h.01M521.0 982.4h.01M530.4 1003.0h.01M527.6 1012.0h.01M521.2 1015.0h.01M438.0 1044.0h.01M440.0 1042.4h.01M442.4 1041.0h.01" stroke="#A687E8"/><path d="M662.3 151.0h.01M710.8 133.8h.01M728.5 154.7h.01M661.8 136.5h.01M723.4 136.9h.01M664.5 160.0h.01M676.6 155.2h.01M674.2 226.8h.01M635.9 245.2h.01M651.5 241.2h.01M791.0 275.6h.01M827.0 291.6h.01M830.0 299.6h.01M770.4 230.2h.01M827.0 219.6h.01M546.4 219.4h.01M553.0 221.6h.01M551.6 236.2h.01M543.2 240.0h.01M546.4 314.4h.01M480.8 349.4h.01M385.0 422.4h.01M495.0 455.6h.01M567.0 493.6h.01M564.0 500.4h.01M641.7 427.1h.01M572.8 463.2h.01M699.3 443.0h.01M722.5 448.2h.01M696.6 422.1h.01M687.0 418.4h.01M703.1 438.0h.01M603.0 391.6h.01M615.6 416.0h.01M951.8 374.5h.01M723.0 592.5h.01M725.5 597.0h.01M1043.8 684.7h.01M942.6 748.0h.01M1020.8 697.7h.01M988.8 753.7h.01M936.9 686.6h.01M967.8 661.4h.01M993.9 707.4h.01M1016.4 655.3h.01M1022.1 649.4h.01M895.9 718.2h.01M970.9 711.1h.01M972.2 687.5h.01M921.0 734.9h.01M1011.5 703.7h.01M932.3 726.0h.01M935.4 745.9h.01M980.4 730.7h.01M932.2 717.0h.01M930.6 750.2h.01M1039.2 683.0h.01M1038.4 737.0h.01M1003.1 703.4h.01M1023.2 657.7h.01M1046.0 716.8h.01M1054.1 679.0h.01M1066.4 666.9h.01M193.5 538.0h.01M461.2 565.7h.01M427.5 567.9h.01M486.2 558.3h.01M602.8 663.0h.01M627.7 693.6h.01M603.8 680.6h.01M642.9 687.2h.01M610.0 653.7h.01M595.0 673.4h.01M599.6 653.2h.01M649.0 672.6h.01M650.6 674.4h.01M603.7 655.9h.01M668.4 728.0h.01M576.4 774.6h.01M575.0 777.4h.01M803.0 781.8h.01M697.6 858.8h.01M698.0 854.6h.01M629.4 890.2h.01M610.0 843.6h.01M611.6 841.0h.01M609.6 844.4h.01M320.0 766.2h.01M322.1 758.6h.01M301.5 849.8h.01M346.7 861.9h.01M371.4 749.2h.01M298.6 847.4h.01M346.6 829.4h.01M341.5 828.5h.01M381.4 786.9h.01M389.1 786.5h.01M308.3 828.2h.01M343.5 740.1h.01M509.4 878.4h.01M499.6 870.4h.01M500.4 889.8h.01M493.4 886.6h.01M502.6 875.4h.01M450.0 849.8h.01M465.7 853.9h.01M458.1 859.9h.01" stroke="#7F5BF1"/><path d="M738.1 194.8h.01M648.6 433.7h.01M705.0 437.4h.01M672.4 445.6h.01M580.6 474.4h.01M635.0 466.0h.01M1022.6 698.4h.01M955.8 770.9h.01M1026.0 637.6h.01M916.4 706.4h.01M995.2 772.6h.01M1012.8 665.9h.01M980.0 687.1h.01M1029.4 716.7h.01M984.8 719.7h.01M973.1 713.4h.01M900.4 713.8h.01M613.2 643.6h.01M599.6 655.6h.01M593.4 671.6h.01" stroke="#5630F7"/><path d="M751.0 202.4h.01M716.0 463.0h.01M949.4 702.4h.01" stroke="#1A0CFE"/></g>
<g stroke="#000" stroke-width="3" fill="none">
<path d="M95.5 51V1119.5H1117.5" stroke-linecap="butt" stroke-linejoin="miter"/>
<path d="M90 277H94M90 571.2H94M90 865.4H94"/>
<path d="M141.75 1121V1124.7M307.5 1121V1124.7M473.25 1121V1124.7M639 1121V1124.7M804.75 1121V1124.7M970.5 1121V1124.7"/>
</g>
<text x="605.5" y="36.7" font-size="34.3" font-weight="bold" text-anchor="middle">Zfp24</text>
<g font-size="30.3" text-anchor="end">
<text transform="translate(88.3 287.5) scale(1 1.055)">10</text>
<text transform="translate(88.3 581.7) scale(1 1.055)">0</text>
<text transform="translate(88.3 875.9) scale(1 1.055)">-10</text>
</g>
<g font-size="30.3" text-anchor="middle">
<text transform="translate(141.75 1148) scale(1 1.055)">-15</text>
<text transform="translate(307.5 1148) scale(1 1.055)">-10</text>
<text transform="translate(473.25 1148) scale(1 1.055)">-5</text>
<text transform="translate(639 1148) scale(1 1.055)">0</text>
<text transform="translate(804.75 1148) scale(1 1.055)">5</text>
<text transform="translate(970.5 1148) scale(1 1.055)">10</text>
</g>
<text x="606.3" y="1181" font-size="30.7" text-anchor="middle">umapNC_1</text>
<text transform="translate(34 586.2) rotate(-90)" font-size="30.7" text-anchor="middle">umapNC_2</text>
<defs><linearGradient id="lg" x1="0" y1="1" x2="0" y2="0">
<stop offset="0" stop-color="#D3D3D3"/><stop offset="0.1" stop-color="#CAC0D9"/><stop offset="0.2" stop-color="#C1AEDE"/><stop offset="0.3" stop-color="#B69CE3"/><stop offset="0.4" stop-color="#AA89E7"/><stop offset="0.5" stop-color="#9D77EC"/><stop offset="0.6" stop-color="#8E65F0"/><stop offset="0.7" stop-color="#7C51F4"/><stop offset="0.8" stop-color="#673DF8"/><stop offset="0.9" stop-color="#4926FB"/><stop offset="1" stop-color="#0000FF"/>
</linearGradient></defs>
<rect x="1130" y="547.4" width="15.7" height="76.6" fill="url(#lg)"/>
<path d="M1130 567.5h3M1142.7 567.5h3M1130 586.5h3M1142.7 586.5h3M1130 605.5h3M1142.7 605.5h3" stroke="#fff" stroke-width="0.8"/>
<g font-size="25">
<text x="1153" y="557.5">1.6</text>
<text x="1153" y="576.5">1.2</text>
<text x="1153" y="595.5">0.8</text>
<text x="1153" y="614.5">0.4</text>
<text x="1153" y="633.5">0.0</text>
</g>
</svg>
</body></html>
